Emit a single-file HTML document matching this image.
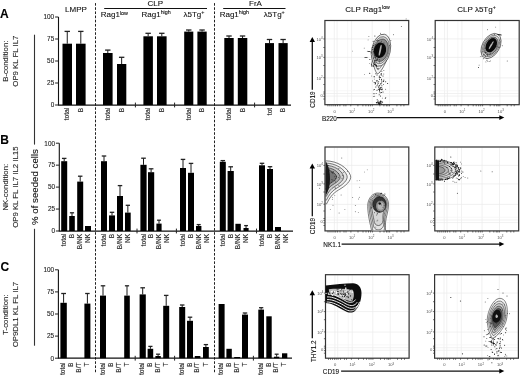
<!DOCTYPE html>
<html><head><meta charset="utf-8"><style>
html,body{margin:0;padding:0;background:#fff;}
svg{display:block;font-family:"Liberation Sans", sans-serif;will-change:transform;}
text{stroke:currentColor;stroke-width:0.1px;paint-order:stroke;}
</style></head><body>
<svg width="520" height="375" viewBox="0 0 520 375">
<rect width="520" height="375" fill="#fff"/>
<text x="0.0" y="17.7" font-size="12.0" text-anchor="start" font-weight="bold" fill="#000">A</text><text x="0.3" y="143.7" font-size="12.0" text-anchor="start" font-weight="bold" fill="#000">B</text><text x="0.6" y="270.5" font-size="12.0" text-anchor="start" font-weight="bold" fill="#000">C</text><text x="8.5" y="61.2" font-size="7.8" text-anchor="middle" font-weight="normal" fill="#222" transform="rotate(-90 8.5 61.2)">B-condition:</text><text x="18.3" y="61.2" font-size="7.8" text-anchor="middle" font-weight="normal" fill="#222" transform="rotate(-90 18.3 61.2)">OP9 KL FL IL7</text><text x="8.5" y="187.2" font-size="7.8" text-anchor="middle" font-weight="normal" fill="#222" transform="rotate(-90 8.5 187.2)">NK-condition:</text><text x="18.3" y="187.2" font-size="7.8" text-anchor="middle" font-weight="normal" fill="#222" transform="rotate(-90 18.3 187.2)">OP9 KL FL IL7 IL2 IL15</text><text x="8.5" y="314.6" font-size="7.8" text-anchor="middle" font-weight="normal" fill="#222" transform="rotate(-90 8.5 314.6)">T-condition:</text><text x="18.3" y="314.6" font-size="7.8" text-anchor="middle" font-weight="normal" fill="#222" transform="rotate(-90 18.3 314.6)">OP9DL1 KL FL IL7</text><text x="38.4" y="187.0" font-size="9.7" text-anchor="middle" font-weight="normal" fill="#111" transform="rotate(-90 38.4 187.0)">% of seeded cells</text><line x1="34.5" y1="34.7" x2="34.5" y2="144.6" stroke="#333" stroke-width="1.1"/><line x1="34.5" y1="228.8" x2="34.5" y2="345.7" stroke="#333" stroke-width="1.1"/><text x="76" y="11.8" font-size="8" text-anchor="middle" font-weight="normal" fill="#111">LMPP</text><text x="155.3" y="5.5" font-size="8" text-anchor="middle" font-weight="normal" fill="#111">CLP</text><text x="255.5" y="6.0" font-size="8" text-anchor="middle" font-weight="normal" fill="#111">FrA</text><line x1="104.2" y1="8.5" x2="207" y2="8.5" stroke="#111" stroke-width="1.0"/><line x1="223.2" y1="8.5" x2="285.5" y2="8.5" stroke="#111" stroke-width="1.0"/><text x="100.8" y="17.2" font-size="8" fill="#111">Rag1<tspan font-size="5.4" dy="-2.6">low</tspan></text><text x="141.5" y="17.0" font-size="8" fill="#111">Rag1<tspan font-size="5.4" dy="-2.6">high</tspan></text><text x="183.5" y="17.0" font-size="8" fill="#111">&#955;5Tg<tspan font-size="5.4" dy="-2.6">+</tspan></text><text x="219.7" y="17.0" font-size="8" fill="#111">Rag1<tspan font-size="5.4" dy="-2.6">high</tspan></text><text x="263.8" y="17.0" font-size="8" fill="#111">&#955;5Tg<tspan font-size="5.4" dy="-2.6">+</tspan></text><line x1="95.5" y1="3.1" x2="95.5" y2="373.0" stroke="#222" stroke-width="1.0" stroke-dasharray="2.6 1.565"/><line x1="214.5" y1="3.1" x2="214.5" y2="373.0" stroke="#222" stroke-width="1.0" stroke-dasharray="2.6 1.565"/><line x1="58.5" y1="17.0" x2="58.5" y2="105.0" stroke="#111" stroke-width="1.1"/><line x1="55.1" y1="17.0" x2="58.5" y2="17.0" stroke="#222" stroke-width="1.0"/><text x="54.2" y="19.3" font-size="6.4" text-anchor="end" font-weight="normal" fill="#222">100</text><line x1="55.1" y1="39.0" x2="58.5" y2="39.0" stroke="#222" stroke-width="1.0"/><text x="54.2" y="41.3" font-size="6.4" text-anchor="end" font-weight="normal" fill="#222">75</text><line x1="55.1" y1="61.0" x2="58.5" y2="61.0" stroke="#222" stroke-width="1.0"/><text x="54.2" y="63.3" font-size="6.4" text-anchor="end" font-weight="normal" fill="#222">50</text><line x1="55.1" y1="83.0" x2="58.5" y2="83.0" stroke="#222" stroke-width="1.0"/><text x="54.2" y="85.3" font-size="6.4" text-anchor="end" font-weight="normal" fill="#222">25</text><line x1="55.1" y1="105.0" x2="58.5" y2="105.0" stroke="#222" stroke-width="1.0"/><text x="54.2" y="107.3" font-size="6.4" text-anchor="end" font-weight="normal" fill="#222">0</text><line x1="58.0" y1="105.0" x2="291.0" y2="105.0" stroke="#111" stroke-width="1.25"/><line x1="135.4" y1="102.6" x2="135.4" y2="107.4" stroke="#222" stroke-width="1.0"/><line x1="174.6" y1="102.6" x2="174.6" y2="107.4" stroke="#222" stroke-width="1.0"/><line x1="254.6" y1="102.6" x2="254.6" y2="107.4" stroke="#222" stroke-width="1.0"/><rect x="62.5" y="43.7" width="9.5" height="61.3" fill="#000"/><line x1="67.25" y1="31.4" x2="67.25" y2="43.7" stroke="#000" stroke-width="0.9"/><line x1="64.55" y1="31.4" x2="69.95" y2="31.4" stroke="#222" stroke-width="1.3"/><text x="69.45" y="107.8" font-size="6.6" text-anchor="end" font-weight="normal" fill="#222" transform="rotate(-90 69.45 107.8)">total</text><rect x="76.0" y="43.7" width="9.599999999999994" height="61.3" fill="#000"/><line x1="80.8" y1="31.4" x2="80.8" y2="43.7" stroke="#000" stroke-width="0.9"/><line x1="78.1" y1="31.4" x2="83.5" y2="31.4" stroke="#222" stroke-width="1.3"/><text x="83.0" y="107.8" font-size="6.6" text-anchor="end" font-weight="normal" fill="#222" transform="rotate(-90 83.0 107.8)">B</text><rect x="103.0" y="53.0" width="9.599999999999994" height="52.0" fill="#000"/><line x1="107.8" y1="50.1" x2="107.8" y2="53.0" stroke="#000" stroke-width="0.9"/><line x1="105.1" y1="50.1" x2="110.5" y2="50.1" stroke="#222" stroke-width="1.3"/><text x="110.0" y="107.8" font-size="6.6" text-anchor="end" font-weight="normal" fill="#222" transform="rotate(-90 110.0 107.8)">total</text><rect x="117.0" y="64.0" width="9.299999999999997" height="41.0" fill="#000"/><line x1="121.65" y1="57.3" x2="121.65" y2="64.0" stroke="#000" stroke-width="0.9"/><line x1="118.95" y1="57.3" x2="124.35000000000001" y2="57.3" stroke="#222" stroke-width="1.3"/><text x="123.85000000000001" y="107.8" font-size="6.6" text-anchor="end" font-weight="normal" fill="#222" transform="rotate(-90 123.85000000000001 107.8)">B</text><rect x="143.4" y="36.3" width="9.5" height="68.7" fill="#000"/><line x1="148.15" y1="33.3" x2="148.15" y2="36.3" stroke="#000" stroke-width="0.9"/><line x1="145.45000000000002" y1="33.3" x2="150.85" y2="33.3" stroke="#222" stroke-width="1.3"/><text x="150.35" y="107.8" font-size="6.6" text-anchor="end" font-weight="normal" fill="#222" transform="rotate(-90 150.35 107.8)">total</text><rect x="157.0" y="36.3" width="9.599999999999994" height="68.7" fill="#000"/><line x1="161.8" y1="33.3" x2="161.8" y2="36.3" stroke="#000" stroke-width="0.9"/><line x1="159.10000000000002" y1="33.3" x2="164.5" y2="33.3" stroke="#222" stroke-width="1.3"/><text x="164.0" y="107.8" font-size="6.6" text-anchor="end" font-weight="normal" fill="#222" transform="rotate(-90 164.0 107.8)">B</text><rect x="184.2" y="31.6" width="9.100000000000023" height="73.4" fill="#000"/><line x1="188.75" y1="30.0" x2="188.75" y2="31.6" stroke="#000" stroke-width="0.9"/><line x1="186.05" y1="30.0" x2="191.45" y2="30.0" stroke="#222" stroke-width="1.3"/><text x="190.95" y="107.8" font-size="6.6" text-anchor="end" font-weight="normal" fill="#222" transform="rotate(-90 190.95 107.8)">total</text><rect x="197.4" y="31.6" width="9.299999999999983" height="73.4" fill="#000"/><line x1="202.05" y1="30.0" x2="202.05" y2="31.6" stroke="#000" stroke-width="0.9"/><line x1="199.35000000000002" y1="30.0" x2="204.75" y2="30.0" stroke="#222" stroke-width="1.3"/><text x="204.25" y="107.8" font-size="6.6" text-anchor="end" font-weight="normal" fill="#222" transform="rotate(-90 204.25 107.8)">B</text><rect x="224.3" y="38.0" width="9.399999999999977" height="67.0" fill="#000"/><line x1="229.0" y1="36.0" x2="229.0" y2="38.0" stroke="#000" stroke-width="0.9"/><line x1="226.3" y1="36.0" x2="231.7" y2="36.0" stroke="#222" stroke-width="1.3"/><text x="231.2" y="107.8" font-size="6.6" text-anchor="end" font-weight="normal" fill="#222" transform="rotate(-90 231.2 107.8)">total</text><rect x="237.8" y="38.0" width="9.5" height="67.0" fill="#000"/><line x1="242.55" y1="36.0" x2="242.55" y2="38.0" stroke="#000" stroke-width="0.9"/><line x1="239.85000000000002" y1="36.0" x2="245.25" y2="36.0" stroke="#222" stroke-width="1.3"/><text x="244.75" y="107.8" font-size="6.6" text-anchor="end" font-weight="normal" fill="#222" transform="rotate(-90 244.75 107.8)">B</text><rect x="265.0" y="43.1" width="9.0" height="61.9" fill="#000"/><line x1="269.5" y1="39.5" x2="269.5" y2="43.1" stroke="#000" stroke-width="0.9"/><line x1="266.8" y1="39.5" x2="272.2" y2="39.5" stroke="#222" stroke-width="1.3"/><text x="271.7" y="107.8" font-size="6.6" text-anchor="end" font-weight="normal" fill="#222" transform="rotate(-90 271.7 107.8)">tot</text><rect x="278.5" y="43.1" width="9.199999999999989" height="61.9" fill="#000"/><line x1="283.1" y1="39.5" x2="283.1" y2="43.1" stroke="#000" stroke-width="0.9"/><line x1="280.40000000000003" y1="39.5" x2="285.8" y2="39.5" stroke="#222" stroke-width="1.3"/><text x="285.3" y="107.8" font-size="6.6" text-anchor="end" font-weight="normal" fill="#222" transform="rotate(-90 285.3 107.8)">B</text><line x1="59.3" y1="143.2" x2="59.3" y2="231.0" stroke="#111" stroke-width="1.1"/><line x1="55.9" y1="143.2" x2="59.3" y2="143.2" stroke="#222" stroke-width="1.0"/><text x="55.0" y="145.5" font-size="6.4" text-anchor="end" font-weight="normal" fill="#222">100</text><line x1="55.9" y1="165.14999999999998" x2="59.3" y2="165.14999999999998" stroke="#222" stroke-width="1.0"/><text x="55.0" y="167.45" font-size="6.4" text-anchor="end" font-weight="normal" fill="#222">75</text><line x1="55.9" y1="187.1" x2="59.3" y2="187.1" stroke="#222" stroke-width="1.0"/><text x="55.0" y="189.4" font-size="6.4" text-anchor="end" font-weight="normal" fill="#222">50</text><line x1="55.9" y1="209.05" x2="59.3" y2="209.05" stroke="#222" stroke-width="1.0"/><text x="55.0" y="211.35000000000002" font-size="6.4" text-anchor="end" font-weight="normal" fill="#222">25</text><line x1="55.9" y1="231.0" x2="59.3" y2="231.0" stroke="#222" stroke-width="1.0"/><text x="55.0" y="233.3" font-size="6.4" text-anchor="end" font-weight="normal" fill="#222">0</text><line x1="58.8" y1="231.0" x2="293.0" y2="231.0" stroke="#111" stroke-width="1.25"/><line x1="137.0" y1="228.6" x2="137.0" y2="233.4" stroke="#222" stroke-width="1.0"/><line x1="176.4" y1="228.6" x2="176.4" y2="233.4" stroke="#222" stroke-width="1.0"/><line x1="256.5" y1="228.6" x2="256.5" y2="233.4" stroke="#222" stroke-width="1.0"/><rect x="61.2" y="161.2" width="6.0" height="69.80000000000001" fill="#000"/><line x1="64.2" y1="158.4" x2="64.2" y2="161.2" stroke="#000" stroke-width="0.9"/><line x1="61.95" y1="158.4" x2="66.45" y2="158.4" stroke="#222" stroke-width="1.3"/><text x="66.4" y="233.8" font-size="6.6" text-anchor="end" font-weight="normal" fill="#222" transform="rotate(-90 66.4 233.8)">total</text><rect x="69.2" y="216.0" width="5.599999999999994" height="15.0" fill="#000"/><line x1="72.0" y1="212.8" x2="72.0" y2="216.0" stroke="#000" stroke-width="0.9"/><line x1="69.9" y1="212.8" x2="74.1" y2="212.8" stroke="#222" stroke-width="1.3"/><text x="74.2" y="233.8" font-size="6.6" text-anchor="end" font-weight="normal" fill="#222" transform="rotate(-90 74.2 233.8)">B</text><rect x="77.2" y="181.6" width="6.0" height="49.400000000000006" fill="#000"/><line x1="80.2" y1="176.2" x2="80.2" y2="181.6" stroke="#000" stroke-width="0.9"/><line x1="77.95" y1="176.2" x2="82.45" y2="176.2" stroke="#222" stroke-width="1.3"/><text x="82.4" y="233.8" font-size="6.6" text-anchor="end" font-weight="normal" fill="#222" transform="rotate(-90 82.4 233.8)">B/NK</text><rect x="85.0" y="226.0" width="6.0" height="5.0" fill="#000"/><text x="90.2" y="233.8" font-size="6.6" text-anchor="end" font-weight="normal" fill="#222" transform="rotate(-90 90.2 233.8)">NK</text><rect x="101" y="161.2" width="6" height="69.80000000000001" fill="#000"/><line x1="104.0" y1="156.0" x2="104.0" y2="161.2" stroke="#000" stroke-width="0.9"/><line x1="101.75" y1="156.0" x2="106.25" y2="156.0" stroke="#222" stroke-width="1.3"/><text x="106.2" y="233.8" font-size="6.6" text-anchor="end" font-weight="normal" fill="#222" transform="rotate(-90 106.2 233.8)">total</text><rect x="109" y="215.4" width="6" height="15.599999999999994" fill="#000"/><line x1="112.0" y1="212.3" x2="112.0" y2="215.4" stroke="#000" stroke-width="0.9"/><line x1="109.75" y1="212.3" x2="114.25" y2="212.3" stroke="#222" stroke-width="1.3"/><text x="114.2" y="233.8" font-size="6.6" text-anchor="end" font-weight="normal" fill="#222" transform="rotate(-90 114.2 233.8)">B</text><rect x="117" y="196.0" width="6" height="35.0" fill="#000"/><line x1="120.0" y1="185.6" x2="120.0" y2="196.0" stroke="#000" stroke-width="0.9"/><line x1="117.75" y1="185.6" x2="122.25" y2="185.6" stroke="#222" stroke-width="1.3"/><text x="122.2" y="233.8" font-size="6.6" text-anchor="end" font-weight="normal" fill="#222" transform="rotate(-90 122.2 233.8)">B/NK</text><rect x="125" y="212.6" width="5.699999999999989" height="18.400000000000006" fill="#000"/><line x1="127.85" y1="205.3" x2="127.85" y2="212.6" stroke="#000" stroke-width="0.9"/><line x1="125.7125" y1="205.3" x2="129.98749999999998" y2="205.3" stroke="#222" stroke-width="1.3"/><text x="130.04999999999998" y="233.8" font-size="6.6" text-anchor="end" font-weight="normal" fill="#222" transform="rotate(-90 130.04999999999998 233.8)">NK</text><rect x="140.4" y="164.8" width="6.199999999999989" height="66.19999999999999" fill="#000"/><line x1="143.5" y1="158.2" x2="143.5" y2="164.8" stroke="#000" stroke-width="0.9"/><line x1="141.175" y1="158.2" x2="145.825" y2="158.2" stroke="#222" stroke-width="1.3"/><text x="145.7" y="233.8" font-size="6.6" text-anchor="end" font-weight="normal" fill="#222" transform="rotate(-90 145.7 233.8)">total</text><rect x="148" y="172.2" width="6.199999999999989" height="58.80000000000001" fill="#000"/><line x1="151.1" y1="168.8" x2="151.1" y2="172.2" stroke="#000" stroke-width="0.9"/><line x1="148.775" y1="168.8" x2="153.42499999999998" y2="168.8" stroke="#222" stroke-width="1.3"/><text x="153.29999999999998" y="233.8" font-size="6.6" text-anchor="end" font-weight="normal" fill="#222" transform="rotate(-90 153.29999999999998 233.8)">B</text><rect x="156.4" y="223.6" width="5.199999999999989" height="7.400000000000006" fill="#000"/><line x1="159.0" y1="220.2" x2="159.0" y2="223.6" stroke="#000" stroke-width="0.9"/><line x1="157.05" y1="220.2" x2="160.95" y2="220.2" stroke="#222" stroke-width="1.3"/><text x="161.2" y="233.8" font-size="6.6" text-anchor="end" font-weight="normal" fill="#222" transform="rotate(-90 161.2 233.8)">B/NK</text><text x="169.39999999999998" y="233.8" font-size="6.6" text-anchor="end" font-weight="normal" fill="#222" transform="rotate(-90 169.39999999999998 233.8)">NK</text><rect x="180" y="168.0" width="6" height="63.0" fill="#000"/><line x1="183.0" y1="159.4" x2="183.0" y2="168.0" stroke="#000" stroke-width="0.9"/><line x1="180.75" y1="159.4" x2="185.25" y2="159.4" stroke="#222" stroke-width="1.3"/><text x="185.2" y="233.8" font-size="6.6" text-anchor="end" font-weight="normal" fill="#222" transform="rotate(-90 185.2 233.8)">total</text><rect x="188" y="172.8" width="6" height="58.19999999999999" fill="#000"/><line x1="191.0" y1="163.4" x2="191.0" y2="172.8" stroke="#000" stroke-width="0.9"/><line x1="188.75" y1="163.4" x2="193.25" y2="163.4" stroke="#222" stroke-width="1.3"/><text x="193.2" y="233.8" font-size="6.6" text-anchor="end" font-weight="normal" fill="#222" transform="rotate(-90 193.2 233.8)">B</text><rect x="196" y="226.0" width="5.400000000000006" height="5.0" fill="#000"/><line x1="198.7" y1="224.6" x2="198.7" y2="226.0" stroke="#000" stroke-width="0.9"/><line x1="196.67499999999998" y1="224.6" x2="200.725" y2="224.6" stroke="#222" stroke-width="1.3"/><text x="200.89999999999998" y="233.8" font-size="6.6" text-anchor="end" font-weight="normal" fill="#222" transform="rotate(-90 200.89999999999998 233.8)">B/NK</text><text x="208.95" y="233.8" font-size="6.6" text-anchor="end" font-weight="normal" fill="#222" transform="rotate(-90 208.95 233.8)">NK</text><rect x="219.8" y="161.8" width="6.0" height="69.19999999999999" fill="#000"/><line x1="222.8" y1="160.6" x2="222.8" y2="161.8" stroke="#000" stroke-width="0.9"/><line x1="220.55" y1="160.6" x2="225.05" y2="160.6" stroke="#222" stroke-width="1.3"/><text x="225.0" y="233.8" font-size="6.6" text-anchor="end" font-weight="normal" fill="#222" transform="rotate(-90 225.0 233.8)">total</text><rect x="227.6" y="171.0" width="6.200000000000017" height="60.0" fill="#000"/><line x1="230.7" y1="166.8" x2="230.7" y2="171.0" stroke="#000" stroke-width="0.9"/><line x1="228.37499999999997" y1="166.8" x2="233.025" y2="166.8" stroke="#222" stroke-width="1.3"/><text x="232.89999999999998" y="233.8" font-size="6.6" text-anchor="end" font-weight="normal" fill="#222" transform="rotate(-90 232.89999999999998 233.8)">B</text><rect x="235.4" y="223.8" width="5.400000000000006" height="7.199999999999989" fill="#000"/><text x="240.3" y="233.8" font-size="6.6" text-anchor="end" font-weight="normal" fill="#222" transform="rotate(-90 240.3 233.8)">B/NK</text><rect x="243.5" y="228.0" width="5.099999999999994" height="3.0" fill="#000"/><line x1="246.05" y1="225.6" x2="246.05" y2="228.0" stroke="#000" stroke-width="0.9"/><line x1="244.13750000000002" y1="225.6" x2="247.9625" y2="225.6" stroke="#222" stroke-width="1.3"/><text x="248.25" y="233.8" font-size="6.6" text-anchor="end" font-weight="normal" fill="#222" transform="rotate(-90 248.25 233.8)">NK</text><rect x="259" y="165.3" width="6" height="65.69999999999999" fill="#000"/><line x1="262.0" y1="163.3" x2="262.0" y2="165.3" stroke="#000" stroke-width="0.9"/><line x1="259.75" y1="163.3" x2="264.25" y2="163.3" stroke="#222" stroke-width="1.3"/><text x="264.2" y="233.8" font-size="6.6" text-anchor="end" font-weight="normal" fill="#222" transform="rotate(-90 264.2 233.8)">total</text><rect x="267" y="169.0" width="6" height="62.0" fill="#000"/><line x1="270.0" y1="166.7" x2="270.0" y2="169.0" stroke="#000" stroke-width="0.9"/><line x1="267.75" y1="166.7" x2="272.25" y2="166.7" stroke="#222" stroke-width="1.3"/><text x="272.2" y="233.8" font-size="6.6" text-anchor="end" font-weight="normal" fill="#222" transform="rotate(-90 272.2 233.8)">B</text><rect x="275" y="227.0" width="6" height="4.0" fill="#000"/><text x="280.2" y="233.8" font-size="6.6" text-anchor="end" font-weight="normal" fill="#222" transform="rotate(-90 280.2 233.8)">B/NK</text><text x="287.95" y="233.8" font-size="6.6" text-anchor="end" font-weight="normal" fill="#222" transform="rotate(-90 287.95 233.8)">NK</text><line x1="58.4" y1="269.8" x2="58.4" y2="358.2" stroke="#111" stroke-width="1.1"/><line x1="55.0" y1="269.8" x2="58.4" y2="269.8" stroke="#222" stroke-width="1.0"/><text x="54.1" y="272.1" font-size="6.4" text-anchor="end" font-weight="normal" fill="#222">100</text><line x1="55.0" y1="291.9" x2="58.4" y2="291.9" stroke="#222" stroke-width="1.0"/><text x="54.1" y="294.2" font-size="6.4" text-anchor="end" font-weight="normal" fill="#222">75</text><line x1="55.0" y1="314.0" x2="58.4" y2="314.0" stroke="#222" stroke-width="1.0"/><text x="54.1" y="316.3" font-size="6.4" text-anchor="end" font-weight="normal" fill="#222">50</text><line x1="55.0" y1="336.1" x2="58.4" y2="336.1" stroke="#222" stroke-width="1.0"/><text x="54.1" y="338.40000000000003" font-size="6.4" text-anchor="end" font-weight="normal" fill="#222">25</text><line x1="55.0" y1="358.2" x2="58.4" y2="358.2" stroke="#222" stroke-width="1.0"/><text x="54.1" y="360.5" font-size="6.4" text-anchor="end" font-weight="normal" fill="#222">0</text><line x1="57.9" y1="358.2" x2="292.0" y2="358.2" stroke="#111" stroke-width="1.25"/><line x1="135.2" y1="355.8" x2="135.2" y2="360.59999999999997" stroke="#222" stroke-width="1.0"/><line x1="174.6" y1="355.8" x2="174.6" y2="360.59999999999997" stroke="#222" stroke-width="1.0"/><line x1="253.4" y1="355.8" x2="253.4" y2="360.59999999999997" stroke="#222" stroke-width="1.0"/><rect x="60.4" y="302.8" width="6.399999999999999" height="55.39999999999998" fill="#000"/><line x1="63.599999999999994" y1="293.5" x2="63.599999999999994" y2="302.8" stroke="#000" stroke-width="0.9"/><line x1="61.199999999999996" y1="293.5" x2="66.0" y2="293.5" stroke="#222" stroke-width="1.3"/><text x="65.3" y="362.5" font-size="6.6" text-anchor="end" font-weight="normal" fill="#222" transform="rotate(-90 65.3 362.5)">total</text><text x="73.00000000000001" y="362.5" font-size="6.6" text-anchor="end" font-weight="normal" fill="#222" transform="rotate(-90 73.00000000000001 362.5)">B</text><text x="81.00000000000001" y="362.5" font-size="6.6" text-anchor="end" font-weight="normal" fill="#222" transform="rotate(-90 81.00000000000001 362.5)">B/T</text><rect x="84.4" y="303.6" width="6.0" height="54.599999999999966" fill="#000"/><line x1="87.4" y1="293.5" x2="87.4" y2="303.6" stroke="#000" stroke-width="0.9"/><line x1="85.15" y1="293.5" x2="89.65" y2="293.5" stroke="#222" stroke-width="1.3"/><text x="89.10000000000001" y="362.5" font-size="6.6" text-anchor="end" font-weight="normal" fill="#222" transform="rotate(-90 89.10000000000001 362.5)">T</text><rect x="100" y="295.6" width="6" height="62.599999999999966" fill="#000"/><line x1="103.0" y1="285.8" x2="103.0" y2="295.6" stroke="#000" stroke-width="0.9"/><line x1="100.75" y1="285.8" x2="105.25" y2="285.8" stroke="#222" stroke-width="1.3"/><text x="104.7" y="362.5" font-size="6.6" text-anchor="end" font-weight="normal" fill="#222" transform="rotate(-90 104.7 362.5)">total</text><text x="112.7" y="362.5" font-size="6.6" text-anchor="end" font-weight="normal" fill="#222" transform="rotate(-90 112.7 362.5)">B</text><text x="120.7" y="362.5" font-size="6.6" text-anchor="end" font-weight="normal" fill="#222" transform="rotate(-90 120.7 362.5)">B/T</text><rect x="124.2" y="295.6" width="5.6000000000000085" height="62.599999999999966" fill="#000"/><line x1="127.0" y1="285.8" x2="127.0" y2="295.6" stroke="#000" stroke-width="0.9"/><line x1="124.89999999999999" y1="285.8" x2="129.1" y2="285.8" stroke="#222" stroke-width="1.3"/><text x="128.7" y="362.5" font-size="6.6" text-anchor="end" font-weight="normal" fill="#222" transform="rotate(-90 128.7 362.5)">T</text><rect x="139.6" y="294.4" width="6.200000000000017" height="63.80000000000001" fill="#000"/><line x1="142.7" y1="287.8" x2="142.7" y2="294.4" stroke="#000" stroke-width="0.9"/><line x1="140.37499999999997" y1="287.8" x2="145.025" y2="287.8" stroke="#222" stroke-width="1.3"/><text x="144.39999999999998" y="362.5" font-size="6.6" text-anchor="end" font-weight="normal" fill="#222" transform="rotate(-90 144.39999999999998 362.5)">total</text><rect x="147.6" y="348.8" width="5.599999999999994" height="9.399999999999977" fill="#000"/><line x1="150.39999999999998" y1="346.4" x2="150.39999999999998" y2="348.8" stroke="#000" stroke-width="0.9"/><line x1="148.29999999999998" y1="346.4" x2="152.49999999999997" y2="346.4" stroke="#222" stroke-width="1.3"/><text x="152.09999999999997" y="362.5" font-size="6.6" text-anchor="end" font-weight="normal" fill="#222" transform="rotate(-90 152.09999999999997 362.5)">B</text><rect x="155.4" y="356.0" width="5.400000000000006" height="2.1999999999999886" fill="#000"/><line x1="158.10000000000002" y1="354.2" x2="158.10000000000002" y2="356.0" stroke="#000" stroke-width="0.9"/><line x1="156.07500000000002" y1="354.2" x2="160.12500000000003" y2="354.2" stroke="#222" stroke-width="1.3"/><text x="159.8" y="362.5" font-size="6.6" text-anchor="end" font-weight="normal" fill="#222" transform="rotate(-90 159.8 362.5)">B/T</text><rect x="163.2" y="305.8" width="6.0" height="52.39999999999998" fill="#000"/><line x1="166.2" y1="295.4" x2="166.2" y2="305.8" stroke="#000" stroke-width="0.9"/><line x1="163.95" y1="295.4" x2="168.45" y2="295.4" stroke="#222" stroke-width="1.3"/><text x="167.89999999999998" y="362.5" font-size="6.6" text-anchor="end" font-weight="normal" fill="#222" transform="rotate(-90 167.89999999999998 362.5)">T</text><rect x="179.2" y="307.0" width="6.0" height="51.19999999999999" fill="#000"/><line x1="182.2" y1="305.0" x2="182.2" y2="307.0" stroke="#000" stroke-width="0.9"/><line x1="179.95" y1="305.0" x2="184.45" y2="305.0" stroke="#222" stroke-width="1.3"/><text x="183.89999999999998" y="362.5" font-size="6.6" text-anchor="end" font-weight="normal" fill="#222" transform="rotate(-90 183.89999999999998 362.5)">total</text><rect x="187" y="320.8" width="6" height="37.39999999999998" fill="#000"/><line x1="190.0" y1="317.2" x2="190.0" y2="320.8" stroke="#000" stroke-width="0.9"/><line x1="187.75" y1="317.2" x2="192.25" y2="317.2" stroke="#222" stroke-width="1.3"/><text x="191.7" y="362.5" font-size="6.6" text-anchor="end" font-weight="normal" fill="#222" transform="rotate(-90 191.7 362.5)">B</text><rect x="194.8" y="356.0" width="5.599999999999994" height="2.1999999999999886" fill="#000"/><text x="199.3" y="362.5" font-size="6.6" text-anchor="end" font-weight="normal" fill="#222" transform="rotate(-90 199.3 362.5)">B/T</text><rect x="203" y="347.0" width="5.800000000000011" height="11.199999999999989" fill="#000"/><line x1="205.9" y1="344.6" x2="205.9" y2="347.0" stroke="#000" stroke-width="0.9"/><line x1="203.725" y1="344.6" x2="208.07500000000002" y2="344.6" stroke="#222" stroke-width="1.3"/><text x="207.6" y="362.5" font-size="6.6" text-anchor="end" font-weight="normal" fill="#222" transform="rotate(-90 207.6 362.5)">T</text><rect x="218.6" y="304.0" width="6.0" height="54.19999999999999" fill="#000"/><text x="223.29999999999998" y="362.5" font-size="6.6" text-anchor="end" font-weight="normal" fill="#222" transform="rotate(-90 223.29999999999998 362.5)">total</text><rect x="226.4" y="348.8" width="5.400000000000006" height="9.399999999999977" fill="#000"/><text x="230.8" y="362.5" font-size="6.6" text-anchor="end" font-weight="normal" fill="#222" transform="rotate(-90 230.8 362.5)">B</text><rect x="234.2" y="357.0" width="6.0" height="1.1999999999999886" fill="#000"/><text x="238.89999999999998" y="362.5" font-size="6.6" text-anchor="end" font-weight="normal" fill="#222" transform="rotate(-90 238.89999999999998 362.5)">B/T</text><rect x="242" y="314.6" width="6" height="43.599999999999966" fill="#000"/><line x1="245.0" y1="313.0" x2="245.0" y2="314.6" stroke="#000" stroke-width="0.9"/><line x1="242.75" y1="313.0" x2="247.25" y2="313.0" stroke="#222" stroke-width="1.3"/><text x="246.7" y="362.5" font-size="6.6" text-anchor="end" font-weight="normal" fill="#222" transform="rotate(-90 246.7 362.5)">T</text><rect x="258.3" y="309.6" width="5.699999999999989" height="48.599999999999966" fill="#000"/><line x1="261.15" y1="307.7" x2="261.15" y2="309.6" stroke="#000" stroke-width="0.9"/><line x1="259.0125" y1="307.7" x2="263.28749999999997" y2="307.7" stroke="#222" stroke-width="1.3"/><text x="262.84999999999997" y="362.5" font-size="6.6" text-anchor="end" font-weight="normal" fill="#222" transform="rotate(-90 262.84999999999997 362.5)">total</text><rect x="266.3" y="316.3" width="5.399999999999977" height="41.89999999999998" fill="#000"/><text x="270.7" y="362.5" font-size="6.6" text-anchor="end" font-weight="normal" fill="#222" transform="rotate(-90 270.7 362.5)">B</text><rect x="274" y="356.7" width="5.300000000000011" height="1.5" fill="#000"/><line x1="276.65" y1="354.2" x2="276.65" y2="356.7" stroke="#000" stroke-width="0.9"/><line x1="274.66249999999997" y1="354.2" x2="278.6375" y2="354.2" stroke="#222" stroke-width="1.3"/><text x="278.34999999999997" y="362.5" font-size="6.6" text-anchor="end" font-weight="normal" fill="#222" transform="rotate(-90 278.34999999999997 362.5)">B/T</text><rect x="282" y="353.3" width="5.300000000000011" height="4.899999999999977" fill="#000"/><text x="286.34999999999997" y="362.5" font-size="6.6" text-anchor="end" font-weight="normal" fill="#222" transform="rotate(-90 286.34999999999997 362.5)">T</text><line x1="334.29999999999995" y1="21.1" x2="334.29999999999995" y2="104.10000000000001" stroke="#ebebeb" stroke-width="0.7"/><line x1="337.09999999999997" y1="21.1" x2="337.09999999999997" y2="104.10000000000001" stroke="#ebebeb" stroke-width="0.7"/><line x1="347.59999999999997" y1="21.1" x2="347.59999999999997" y2="104.10000000000001" stroke="#f3f3f3" stroke-width="0.7"/><line x1="351.59999999999997" y1="21.1" x2="351.59999999999997" y2="104.10000000000001" stroke="#ebebeb" stroke-width="0.7"/><line x1="372.2" y1="21.1" x2="372.2" y2="104.10000000000001" stroke="#ebebeb" stroke-width="0.7"/><line x1="389.59999999999997" y1="21.1" x2="389.59999999999997" y2="104.10000000000001" stroke="#ebebeb" stroke-width="0.7"/><line x1="325.5" y1="38.9" x2="408.09999999999997" y2="38.9" stroke="#ebebeb" stroke-width="0.7"/><line x1="325.5" y1="57.4" x2="408.09999999999997" y2="57.4" stroke="#ebebeb" stroke-width="0.7"/><line x1="325.5" y1="77.9" x2="408.09999999999997" y2="77.9" stroke="#ebebeb" stroke-width="0.7"/><line x1="325.5" y1="90.7" x2="408.09999999999997" y2="90.7" stroke="#f3f3f3" stroke-width="0.7"/><line x1="325.5" y1="93.5" x2="408.09999999999997" y2="93.5" stroke="#ebebeb" stroke-width="0.7"/><line x1="325.5" y1="96.1" x2="408.09999999999997" y2="96.1" stroke="#ebebeb" stroke-width="0.7"/><rect x="324.9" y="20.5" width="83.8" height="84.2" fill="none" stroke="#333" stroke-width="1.2"/><line x1="323.29999999999995" y1="38.9" x2="324.9" y2="38.9" stroke="#333" stroke-width="0.7"/><line x1="323.29999999999995" y1="57.4" x2="324.9" y2="57.4" stroke="#333" stroke-width="0.7"/><line x1="323.29999999999995" y1="77.7" x2="324.9" y2="77.7" stroke="#333" stroke-width="0.7"/><line x1="323.29999999999995" y1="93.9" x2="324.9" y2="93.9" stroke="#333" stroke-width="0.7"/><line x1="323.29999999999995" y1="96.4" x2="324.9" y2="96.4" stroke="#333" stroke-width="0.7"/><line x1="323.29999999999995" y1="92.0" x2="324.9" y2="92.0" stroke="#333" stroke-width="0.7"/><line x1="323.29999999999995" y1="99.0" x2="324.9" y2="99.0" stroke="#333" stroke-width="0.7"/><line x1="323.29999999999995" y1="65.5" x2="324.9" y2="65.5" stroke="#333" stroke-width="0.7"/><line x1="323.29999999999995" y1="47.5" x2="324.9" y2="47.5" stroke="#333" stroke-width="0.7"/><line x1="323.29999999999995" y1="84.5" x2="324.9" y2="84.5" stroke="#333" stroke-width="0.7"/><line x1="327.9" y1="104.7" x2="327.9" y2="106.3" stroke="#333" stroke-width="0.7"/><line x1="329.9" y1="104.7" x2="329.9" y2="106.3" stroke="#333" stroke-width="0.7"/><line x1="331.9" y1="104.7" x2="331.9" y2="106.3" stroke="#333" stroke-width="0.7"/><line x1="333.9" y1="104.7" x2="333.9" y2="106.3" stroke="#333" stroke-width="0.7"/><line x1="335.59999999999997" y1="104.7" x2="335.59999999999997" y2="106.3" stroke="#333" stroke-width="0.7"/><line x1="337.5" y1="104.7" x2="337.5" y2="106.3" stroke="#333" stroke-width="0.7"/><line x1="339.9" y1="104.7" x2="339.9" y2="106.3" stroke="#333" stroke-width="0.7"/><line x1="343.9" y1="104.7" x2="343.9" y2="106.3" stroke="#333" stroke-width="0.7"/><line x1="345.9" y1="104.7" x2="345.9" y2="106.3" stroke="#333" stroke-width="0.7"/><line x1="350.79999999999995" y1="104.7" x2="350.79999999999995" y2="106.3" stroke="#333" stroke-width="0.7"/><line x1="357.9" y1="104.7" x2="357.9" y2="106.3" stroke="#333" stroke-width="0.7"/><line x1="362.9" y1="104.7" x2="362.9" y2="106.3" stroke="#333" stroke-width="0.7"/><line x1="365.9" y1="104.7" x2="365.9" y2="106.3" stroke="#333" stroke-width="0.7"/><line x1="368.4" y1="104.7" x2="368.4" y2="106.3" stroke="#333" stroke-width="0.7"/><line x1="370.4" y1="104.7" x2="370.4" y2="106.3" stroke="#333" stroke-width="0.7"/><line x1="372.29999999999995" y1="104.7" x2="372.29999999999995" y2="106.3" stroke="#333" stroke-width="0.7"/><line x1="379.9" y1="104.7" x2="379.9" y2="106.3" stroke="#333" stroke-width="0.7"/><line x1="383.9" y1="104.7" x2="383.9" y2="106.3" stroke="#333" stroke-width="0.7"/><line x1="386.4" y1="104.7" x2="386.4" y2="106.3" stroke="#333" stroke-width="0.7"/><line x1="387.9" y1="104.7" x2="387.9" y2="106.3" stroke="#333" stroke-width="0.7"/><line x1="389.5" y1="104.7" x2="389.5" y2="106.3" stroke="#333" stroke-width="0.7"/><line x1="396.9" y1="104.7" x2="396.9" y2="106.3" stroke="#333" stroke-width="0.7"/><line x1="400.9" y1="104.7" x2="400.9" y2="106.3" stroke="#333" stroke-width="0.7"/><line x1="403.9" y1="104.7" x2="403.9" y2="106.3" stroke="#333" stroke-width="0.7"/><text x="322.7" y="40.5" font-size="4.1" text-anchor="end" fill="#555" style="stroke:none">10<tspan font-size="2.9" dy="-1.7">4</tspan></text><text x="322.7" y="59.0" font-size="4.1" text-anchor="end" fill="#555" style="stroke:none">10<tspan font-size="2.9" dy="-1.7">3</tspan></text><text x="322.7" y="79.5" font-size="4.1" text-anchor="end" fill="#555" style="stroke:none">10<tspan font-size="2.9" dy="-1.7">2</tspan></text><text x="322.7" y="96.69999999999999" font-size="4.1" text-anchor="end" fill="#555" style="stroke:none">0</text><text x="334.59999999999997" y="112.9" font-size="4.1" text-anchor="middle" fill="#555" style="stroke:none">0</text><text x="352.0" y="112.9" font-size="4.1" text-anchor="middle" fill="#555" style="stroke:none">10<tspan font-size="2.9" dy="-1.7">1</tspan></text><text x="371.2" y="112.9" font-size="4.1" text-anchor="middle" fill="#555" style="stroke:none">10<tspan font-size="2.9" dy="-1.7">2</tspan></text><text x="390.4" y="112.9" font-size="4.1" text-anchor="middle" fill="#555" style="stroke:none">10<tspan font-size="2.9" dy="-1.7">3</tspan></text><line x1="444.59999999999997" y1="21.1" x2="444.59999999999997" y2="104.10000000000001" stroke="#ebebeb" stroke-width="0.7"/><line x1="447.4" y1="21.1" x2="447.4" y2="104.10000000000001" stroke="#ebebeb" stroke-width="0.7"/><line x1="457.9" y1="21.1" x2="457.9" y2="104.10000000000001" stroke="#f3f3f3" stroke-width="0.7"/><line x1="461.9" y1="21.1" x2="461.9" y2="104.10000000000001" stroke="#ebebeb" stroke-width="0.7"/><line x1="482.5" y1="21.1" x2="482.5" y2="104.10000000000001" stroke="#ebebeb" stroke-width="0.7"/><line x1="499.9" y1="21.1" x2="499.9" y2="104.10000000000001" stroke="#ebebeb" stroke-width="0.7"/><line x1="435.8" y1="38.9" x2="518.6" y2="38.9" stroke="#ebebeb" stroke-width="0.7"/><line x1="435.8" y1="57.4" x2="518.6" y2="57.4" stroke="#ebebeb" stroke-width="0.7"/><line x1="435.8" y1="77.9" x2="518.6" y2="77.9" stroke="#ebebeb" stroke-width="0.7"/><line x1="435.8" y1="90.7" x2="518.6" y2="90.7" stroke="#f3f3f3" stroke-width="0.7"/><line x1="435.8" y1="93.5" x2="518.6" y2="93.5" stroke="#ebebeb" stroke-width="0.7"/><line x1="435.8" y1="96.1" x2="518.6" y2="96.1" stroke="#ebebeb" stroke-width="0.7"/><rect x="435.2" y="20.5" width="84.0" height="84.2" fill="none" stroke="#333" stroke-width="1.2"/><line x1="433.59999999999997" y1="38.9" x2="435.2" y2="38.9" stroke="#333" stroke-width="0.7"/><line x1="433.59999999999997" y1="57.4" x2="435.2" y2="57.4" stroke="#333" stroke-width="0.7"/><line x1="433.59999999999997" y1="77.7" x2="435.2" y2="77.7" stroke="#333" stroke-width="0.7"/><line x1="433.59999999999997" y1="93.9" x2="435.2" y2="93.9" stroke="#333" stroke-width="0.7"/><line x1="433.59999999999997" y1="96.4" x2="435.2" y2="96.4" stroke="#333" stroke-width="0.7"/><line x1="433.59999999999997" y1="92.0" x2="435.2" y2="92.0" stroke="#333" stroke-width="0.7"/><line x1="433.59999999999997" y1="99.0" x2="435.2" y2="99.0" stroke="#333" stroke-width="0.7"/><line x1="433.59999999999997" y1="65.5" x2="435.2" y2="65.5" stroke="#333" stroke-width="0.7"/><line x1="433.59999999999997" y1="47.5" x2="435.2" y2="47.5" stroke="#333" stroke-width="0.7"/><line x1="433.59999999999997" y1="84.5" x2="435.2" y2="84.5" stroke="#333" stroke-width="0.7"/><line x1="438.2" y1="104.7" x2="438.2" y2="106.3" stroke="#333" stroke-width="0.7"/><line x1="440.2" y1="104.7" x2="440.2" y2="106.3" stroke="#333" stroke-width="0.7"/><line x1="442.2" y1="104.7" x2="442.2" y2="106.3" stroke="#333" stroke-width="0.7"/><line x1="444.2" y1="104.7" x2="444.2" y2="106.3" stroke="#333" stroke-width="0.7"/><line x1="445.9" y1="104.7" x2="445.9" y2="106.3" stroke="#333" stroke-width="0.7"/><line x1="447.8" y1="104.7" x2="447.8" y2="106.3" stroke="#333" stroke-width="0.7"/><line x1="450.2" y1="104.7" x2="450.2" y2="106.3" stroke="#333" stroke-width="0.7"/><line x1="454.2" y1="104.7" x2="454.2" y2="106.3" stroke="#333" stroke-width="0.7"/><line x1="456.2" y1="104.7" x2="456.2" y2="106.3" stroke="#333" stroke-width="0.7"/><line x1="461.09999999999997" y1="104.7" x2="461.09999999999997" y2="106.3" stroke="#333" stroke-width="0.7"/><line x1="468.2" y1="104.7" x2="468.2" y2="106.3" stroke="#333" stroke-width="0.7"/><line x1="473.2" y1="104.7" x2="473.2" y2="106.3" stroke="#333" stroke-width="0.7"/><line x1="476.2" y1="104.7" x2="476.2" y2="106.3" stroke="#333" stroke-width="0.7"/><line x1="478.7" y1="104.7" x2="478.7" y2="106.3" stroke="#333" stroke-width="0.7"/><line x1="480.7" y1="104.7" x2="480.7" y2="106.3" stroke="#333" stroke-width="0.7"/><line x1="482.59999999999997" y1="104.7" x2="482.59999999999997" y2="106.3" stroke="#333" stroke-width="0.7"/><line x1="490.2" y1="104.7" x2="490.2" y2="106.3" stroke="#333" stroke-width="0.7"/><line x1="494.2" y1="104.7" x2="494.2" y2="106.3" stroke="#333" stroke-width="0.7"/><line x1="496.7" y1="104.7" x2="496.7" y2="106.3" stroke="#333" stroke-width="0.7"/><line x1="498.2" y1="104.7" x2="498.2" y2="106.3" stroke="#333" stroke-width="0.7"/><line x1="499.79999999999995" y1="104.7" x2="499.79999999999995" y2="106.3" stroke="#333" stroke-width="0.7"/><line x1="507.2" y1="104.7" x2="507.2" y2="106.3" stroke="#333" stroke-width="0.7"/><line x1="511.2" y1="104.7" x2="511.2" y2="106.3" stroke="#333" stroke-width="0.7"/><line x1="514.2" y1="104.7" x2="514.2" y2="106.3" stroke="#333" stroke-width="0.7"/><text x="433.0" y="40.5" font-size="4.1" text-anchor="end" fill="#555" style="stroke:none">10<tspan font-size="2.9" dy="-1.7">4</tspan></text><text x="433.0" y="59.0" font-size="4.1" text-anchor="end" fill="#555" style="stroke:none">10<tspan font-size="2.9" dy="-1.7">3</tspan></text><text x="433.0" y="79.5" font-size="4.1" text-anchor="end" fill="#555" style="stroke:none">10<tspan font-size="2.9" dy="-1.7">2</tspan></text><text x="433.0" y="96.69999999999999" font-size="4.1" text-anchor="end" fill="#555" style="stroke:none">0</text><text x="444.9" y="112.9" font-size="4.1" text-anchor="middle" fill="#555" style="stroke:none">0</text><text x="462.3" y="112.9" font-size="4.1" text-anchor="middle" fill="#555" style="stroke:none">10<tspan font-size="2.9" dy="-1.7">1</tspan></text><text x="481.5" y="112.9" font-size="4.1" text-anchor="middle" fill="#555" style="stroke:none">10<tspan font-size="2.9" dy="-1.7">2</tspan></text><text x="500.7" y="112.9" font-size="4.1" text-anchor="middle" fill="#555" style="stroke:none">10<tspan font-size="2.9" dy="-1.7">3</tspan></text><line x1="312.3" y1="40.9" x2="312.3" y2="89.7" stroke="#111" stroke-width="1.3"/><polygon points="312.3,36.9 309.6,41.9 315.0,41.9" fill="#000"/><text x="315.4" y="99.5" font-size="6.4" text-anchor="middle" font-weight="normal" fill="#111" transform="rotate(-90 315.4 99.5)">CD19</text><text x="322.0" y="120.6" font-size="6.4" text-anchor="start" font-weight="normal" fill="#111">B220</text><line x1="337.0" y1="117.6" x2="500.3" y2="117.6" stroke="#111" stroke-width="1.3"/><polygon points="504.3,117.6 499.3,115.3 499.3,119.89999999999999" fill="#000"/><line x1="334.4" y1="147.6" x2="334.4" y2="230.3" stroke="#ebebeb" stroke-width="0.7"/><line x1="337.2" y1="147.6" x2="337.2" y2="230.3" stroke="#ebebeb" stroke-width="0.7"/><line x1="347.7" y1="147.6" x2="347.7" y2="230.3" stroke="#f3f3f3" stroke-width="0.7"/><line x1="351.7" y1="147.6" x2="351.7" y2="230.3" stroke="#ebebeb" stroke-width="0.7"/><line x1="372.3" y1="147.6" x2="372.3" y2="230.3" stroke="#ebebeb" stroke-width="0.7"/><line x1="389.7" y1="147.6" x2="389.7" y2="230.3" stroke="#ebebeb" stroke-width="0.7"/><line x1="325.6" y1="165.4" x2="408.2" y2="165.4" stroke="#ebebeb" stroke-width="0.7"/><line x1="325.6" y1="183.9" x2="408.2" y2="183.9" stroke="#ebebeb" stroke-width="0.7"/><line x1="325.6" y1="204.4" x2="408.2" y2="204.4" stroke="#ebebeb" stroke-width="0.7"/><line x1="325.6" y1="217.2" x2="408.2" y2="217.2" stroke="#f3f3f3" stroke-width="0.7"/><line x1="325.6" y1="220.0" x2="408.2" y2="220.0" stroke="#ebebeb" stroke-width="0.7"/><line x1="325.6" y1="222.6" x2="408.2" y2="222.6" stroke="#ebebeb" stroke-width="0.7"/><rect x="325.0" y="147.0" width="83.8" height="83.9" fill="none" stroke="#333" stroke-width="1.2"/><line x1="323.4" y1="165.4" x2="325.0" y2="165.4" stroke="#333" stroke-width="0.7"/><line x1="323.4" y1="183.9" x2="325.0" y2="183.9" stroke="#333" stroke-width="0.7"/><line x1="323.4" y1="204.2" x2="325.0" y2="204.2" stroke="#333" stroke-width="0.7"/><line x1="323.4" y1="220.4" x2="325.0" y2="220.4" stroke="#333" stroke-width="0.7"/><line x1="323.4" y1="222.9" x2="325.0" y2="222.9" stroke="#333" stroke-width="0.7"/><line x1="323.4" y1="218.5" x2="325.0" y2="218.5" stroke="#333" stroke-width="0.7"/><line x1="323.4" y1="225.5" x2="325.0" y2="225.5" stroke="#333" stroke-width="0.7"/><line x1="323.4" y1="192.0" x2="325.0" y2="192.0" stroke="#333" stroke-width="0.7"/><line x1="323.4" y1="174.0" x2="325.0" y2="174.0" stroke="#333" stroke-width="0.7"/><line x1="323.4" y1="211.0" x2="325.0" y2="211.0" stroke="#333" stroke-width="0.7"/><line x1="328.0" y1="230.9" x2="328.0" y2="232.5" stroke="#333" stroke-width="0.7"/><line x1="330.0" y1="230.9" x2="330.0" y2="232.5" stroke="#333" stroke-width="0.7"/><line x1="332.0" y1="230.9" x2="332.0" y2="232.5" stroke="#333" stroke-width="0.7"/><line x1="334.0" y1="230.9" x2="334.0" y2="232.5" stroke="#333" stroke-width="0.7"/><line x1="335.7" y1="230.9" x2="335.7" y2="232.5" stroke="#333" stroke-width="0.7"/><line x1="337.6" y1="230.9" x2="337.6" y2="232.5" stroke="#333" stroke-width="0.7"/><line x1="340.0" y1="230.9" x2="340.0" y2="232.5" stroke="#333" stroke-width="0.7"/><line x1="344.0" y1="230.9" x2="344.0" y2="232.5" stroke="#333" stroke-width="0.7"/><line x1="346.0" y1="230.9" x2="346.0" y2="232.5" stroke="#333" stroke-width="0.7"/><line x1="350.9" y1="230.9" x2="350.9" y2="232.5" stroke="#333" stroke-width="0.7"/><line x1="358.0" y1="230.9" x2="358.0" y2="232.5" stroke="#333" stroke-width="0.7"/><line x1="363.0" y1="230.9" x2="363.0" y2="232.5" stroke="#333" stroke-width="0.7"/><line x1="366.0" y1="230.9" x2="366.0" y2="232.5" stroke="#333" stroke-width="0.7"/><line x1="368.5" y1="230.9" x2="368.5" y2="232.5" stroke="#333" stroke-width="0.7"/><line x1="370.5" y1="230.9" x2="370.5" y2="232.5" stroke="#333" stroke-width="0.7"/><line x1="372.4" y1="230.9" x2="372.4" y2="232.5" stroke="#333" stroke-width="0.7"/><line x1="380.0" y1="230.9" x2="380.0" y2="232.5" stroke="#333" stroke-width="0.7"/><line x1="384.0" y1="230.9" x2="384.0" y2="232.5" stroke="#333" stroke-width="0.7"/><line x1="386.5" y1="230.9" x2="386.5" y2="232.5" stroke="#333" stroke-width="0.7"/><line x1="388.0" y1="230.9" x2="388.0" y2="232.5" stroke="#333" stroke-width="0.7"/><line x1="389.6" y1="230.9" x2="389.6" y2="232.5" stroke="#333" stroke-width="0.7"/><line x1="397.0" y1="230.9" x2="397.0" y2="232.5" stroke="#333" stroke-width="0.7"/><line x1="401.0" y1="230.9" x2="401.0" y2="232.5" stroke="#333" stroke-width="0.7"/><line x1="404.0" y1="230.9" x2="404.0" y2="232.5" stroke="#333" stroke-width="0.7"/><text x="322.8" y="167.0" font-size="4.1" text-anchor="end" fill="#555" style="stroke:none">10<tspan font-size="2.9" dy="-1.7">4</tspan></text><text x="322.8" y="185.5" font-size="4.1" text-anchor="end" fill="#555" style="stroke:none">10<tspan font-size="2.9" dy="-1.7">3</tspan></text><text x="322.8" y="206.0" font-size="4.1" text-anchor="end" fill="#555" style="stroke:none">10<tspan font-size="2.9" dy="-1.7">2</tspan></text><text x="322.8" y="223.2" font-size="4.1" text-anchor="end" fill="#555" style="stroke:none">0</text><text x="334.7" y="239.1" font-size="4.1" text-anchor="middle" fill="#555" style="stroke:none">0</text><text x="352.1" y="239.1" font-size="4.1" text-anchor="middle" fill="#555" style="stroke:none">10<tspan font-size="2.9" dy="-1.7">1</tspan></text><text x="371.3" y="239.1" font-size="4.1" text-anchor="middle" fill="#555" style="stroke:none">10<tspan font-size="2.9" dy="-1.7">2</tspan></text><text x="390.5" y="239.1" font-size="4.1" text-anchor="middle" fill="#555" style="stroke:none">10<tspan font-size="2.9" dy="-1.7">3</tspan></text><line x1="444.2" y1="147.6" x2="444.2" y2="230.3" stroke="#ebebeb" stroke-width="0.7"/><line x1="447.0" y1="147.6" x2="447.0" y2="230.3" stroke="#ebebeb" stroke-width="0.7"/><line x1="457.5" y1="147.6" x2="457.5" y2="230.3" stroke="#f3f3f3" stroke-width="0.7"/><line x1="461.5" y1="147.6" x2="461.5" y2="230.3" stroke="#ebebeb" stroke-width="0.7"/><line x1="482.1" y1="147.6" x2="482.1" y2="230.3" stroke="#ebebeb" stroke-width="0.7"/><line x1="499.5" y1="147.6" x2="499.5" y2="230.3" stroke="#ebebeb" stroke-width="0.7"/><line x1="435.40000000000003" y1="165.4" x2="518.1" y2="165.4" stroke="#ebebeb" stroke-width="0.7"/><line x1="435.40000000000003" y1="183.9" x2="518.1" y2="183.9" stroke="#ebebeb" stroke-width="0.7"/><line x1="435.40000000000003" y1="204.4" x2="518.1" y2="204.4" stroke="#ebebeb" stroke-width="0.7"/><line x1="435.40000000000003" y1="217.2" x2="518.1" y2="217.2" stroke="#f3f3f3" stroke-width="0.7"/><line x1="435.40000000000003" y1="220.0" x2="518.1" y2="220.0" stroke="#ebebeb" stroke-width="0.7"/><line x1="435.40000000000003" y1="222.6" x2="518.1" y2="222.6" stroke="#ebebeb" stroke-width="0.7"/><rect x="434.8" y="147.0" width="83.9" height="83.9" fill="none" stroke="#333" stroke-width="1.2"/><line x1="433.2" y1="165.4" x2="434.8" y2="165.4" stroke="#333" stroke-width="0.7"/><line x1="433.2" y1="183.9" x2="434.8" y2="183.9" stroke="#333" stroke-width="0.7"/><line x1="433.2" y1="204.2" x2="434.8" y2="204.2" stroke="#333" stroke-width="0.7"/><line x1="433.2" y1="220.4" x2="434.8" y2="220.4" stroke="#333" stroke-width="0.7"/><line x1="433.2" y1="222.9" x2="434.8" y2="222.9" stroke="#333" stroke-width="0.7"/><line x1="433.2" y1="218.5" x2="434.8" y2="218.5" stroke="#333" stroke-width="0.7"/><line x1="433.2" y1="225.5" x2="434.8" y2="225.5" stroke="#333" stroke-width="0.7"/><line x1="433.2" y1="192.0" x2="434.8" y2="192.0" stroke="#333" stroke-width="0.7"/><line x1="433.2" y1="174.0" x2="434.8" y2="174.0" stroke="#333" stroke-width="0.7"/><line x1="433.2" y1="211.0" x2="434.8" y2="211.0" stroke="#333" stroke-width="0.7"/><line x1="437.8" y1="230.9" x2="437.8" y2="232.5" stroke="#333" stroke-width="0.7"/><line x1="439.8" y1="230.9" x2="439.8" y2="232.5" stroke="#333" stroke-width="0.7"/><line x1="441.8" y1="230.9" x2="441.8" y2="232.5" stroke="#333" stroke-width="0.7"/><line x1="443.8" y1="230.9" x2="443.8" y2="232.5" stroke="#333" stroke-width="0.7"/><line x1="445.5" y1="230.9" x2="445.5" y2="232.5" stroke="#333" stroke-width="0.7"/><line x1="447.40000000000003" y1="230.9" x2="447.40000000000003" y2="232.5" stroke="#333" stroke-width="0.7"/><line x1="449.8" y1="230.9" x2="449.8" y2="232.5" stroke="#333" stroke-width="0.7"/><line x1="453.8" y1="230.9" x2="453.8" y2="232.5" stroke="#333" stroke-width="0.7"/><line x1="455.8" y1="230.9" x2="455.8" y2="232.5" stroke="#333" stroke-width="0.7"/><line x1="460.7" y1="230.9" x2="460.7" y2="232.5" stroke="#333" stroke-width="0.7"/><line x1="467.8" y1="230.9" x2="467.8" y2="232.5" stroke="#333" stroke-width="0.7"/><line x1="472.8" y1="230.9" x2="472.8" y2="232.5" stroke="#333" stroke-width="0.7"/><line x1="475.8" y1="230.9" x2="475.8" y2="232.5" stroke="#333" stroke-width="0.7"/><line x1="478.3" y1="230.9" x2="478.3" y2="232.5" stroke="#333" stroke-width="0.7"/><line x1="480.3" y1="230.9" x2="480.3" y2="232.5" stroke="#333" stroke-width="0.7"/><line x1="482.2" y1="230.9" x2="482.2" y2="232.5" stroke="#333" stroke-width="0.7"/><line x1="489.8" y1="230.9" x2="489.8" y2="232.5" stroke="#333" stroke-width="0.7"/><line x1="493.8" y1="230.9" x2="493.8" y2="232.5" stroke="#333" stroke-width="0.7"/><line x1="496.3" y1="230.9" x2="496.3" y2="232.5" stroke="#333" stroke-width="0.7"/><line x1="497.8" y1="230.9" x2="497.8" y2="232.5" stroke="#333" stroke-width="0.7"/><line x1="499.4" y1="230.9" x2="499.4" y2="232.5" stroke="#333" stroke-width="0.7"/><line x1="506.8" y1="230.9" x2="506.8" y2="232.5" stroke="#333" stroke-width="0.7"/><line x1="510.8" y1="230.9" x2="510.8" y2="232.5" stroke="#333" stroke-width="0.7"/><line x1="513.8" y1="230.9" x2="513.8" y2="232.5" stroke="#333" stroke-width="0.7"/><text x="432.6" y="167.0" font-size="4.1" text-anchor="end" fill="#555" style="stroke:none">10<tspan font-size="2.9" dy="-1.7">4</tspan></text><text x="432.6" y="185.5" font-size="4.1" text-anchor="end" fill="#555" style="stroke:none">10<tspan font-size="2.9" dy="-1.7">3</tspan></text><text x="432.6" y="206.0" font-size="4.1" text-anchor="end" fill="#555" style="stroke:none">10<tspan font-size="2.9" dy="-1.7">2</tspan></text><text x="432.6" y="223.2" font-size="4.1" text-anchor="end" fill="#555" style="stroke:none">0</text><text x="444.5" y="239.1" font-size="4.1" text-anchor="middle" fill="#555" style="stroke:none">0</text><text x="461.90000000000003" y="239.1" font-size="4.1" text-anchor="middle" fill="#555" style="stroke:none">10<tspan font-size="2.9" dy="-1.7">1</tspan></text><text x="481.1" y="239.1" font-size="4.1" text-anchor="middle" fill="#555" style="stroke:none">10<tspan font-size="2.9" dy="-1.7">2</tspan></text><text x="500.3" y="239.1" font-size="4.1" text-anchor="middle" fill="#555" style="stroke:none">10<tspan font-size="2.9" dy="-1.7">3</tspan></text><line x1="312.3" y1="167.4" x2="312.3" y2="216.2" stroke="#111" stroke-width="1.3"/><polygon points="312.3,163.4 309.6,168.4 315.0,168.4" fill="#000"/><text x="315.4" y="226.0" font-size="6.4" text-anchor="middle" font-weight="normal" fill="#111" transform="rotate(-90 315.4 226.0)">CD19</text><text x="323.3" y="246.7" font-size="6.4" text-anchor="start" font-weight="normal" fill="#111">NK1.1</text><line x1="341.6" y1="244.1" x2="500.3" y2="244.1" stroke="#111" stroke-width="1.3"/><polygon points="504.3,244.1 499.3,241.79999999999998 499.3,246.4" fill="#000"/><line x1="334.9" y1="275.3" x2="334.9" y2="357.59999999999997" stroke="#ebebeb" stroke-width="0.7"/><line x1="337.7" y1="275.3" x2="337.7" y2="357.59999999999997" stroke="#ebebeb" stroke-width="0.7"/><line x1="348.2" y1="275.3" x2="348.2" y2="357.59999999999997" stroke="#f3f3f3" stroke-width="0.7"/><line x1="352.2" y1="275.3" x2="352.2" y2="357.59999999999997" stroke="#ebebeb" stroke-width="0.7"/><line x1="372.8" y1="275.3" x2="372.8" y2="357.59999999999997" stroke="#ebebeb" stroke-width="0.7"/><line x1="390.2" y1="275.3" x2="390.2" y2="357.59999999999997" stroke="#ebebeb" stroke-width="0.7"/><line x1="326.1" y1="293.09999999999997" x2="408.5" y2="293.09999999999997" stroke="#ebebeb" stroke-width="0.7"/><line x1="326.1" y1="311.59999999999997" x2="408.5" y2="311.59999999999997" stroke="#ebebeb" stroke-width="0.7"/><line x1="326.1" y1="332.09999999999997" x2="408.5" y2="332.09999999999997" stroke="#ebebeb" stroke-width="0.7"/><line x1="326.1" y1="344.9" x2="408.5" y2="344.9" stroke="#f3f3f3" stroke-width="0.7"/><line x1="326.1" y1="347.7" x2="408.5" y2="347.7" stroke="#ebebeb" stroke-width="0.7"/><line x1="326.1" y1="350.29999999999995" x2="408.5" y2="350.29999999999995" stroke="#ebebeb" stroke-width="0.7"/><rect x="325.5" y="274.7" width="83.6" height="83.5" fill="none" stroke="#333" stroke-width="1.2"/><line x1="323.9" y1="293.09999999999997" x2="325.5" y2="293.09999999999997" stroke="#333" stroke-width="0.7"/><line x1="323.9" y1="311.59999999999997" x2="325.5" y2="311.59999999999997" stroke="#333" stroke-width="0.7"/><line x1="323.9" y1="331.9" x2="325.5" y2="331.9" stroke="#333" stroke-width="0.7"/><line x1="323.9" y1="348.1" x2="325.5" y2="348.1" stroke="#333" stroke-width="0.7"/><line x1="323.9" y1="350.6" x2="325.5" y2="350.6" stroke="#333" stroke-width="0.7"/><line x1="323.9" y1="346.2" x2="325.5" y2="346.2" stroke="#333" stroke-width="0.7"/><line x1="323.9" y1="353.2" x2="325.5" y2="353.2" stroke="#333" stroke-width="0.7"/><line x1="323.9" y1="319.7" x2="325.5" y2="319.7" stroke="#333" stroke-width="0.7"/><line x1="323.9" y1="301.7" x2="325.5" y2="301.7" stroke="#333" stroke-width="0.7"/><line x1="323.9" y1="338.7" x2="325.5" y2="338.7" stroke="#333" stroke-width="0.7"/><line x1="328.5" y1="358.2" x2="328.5" y2="359.8" stroke="#333" stroke-width="0.7"/><line x1="330.5" y1="358.2" x2="330.5" y2="359.8" stroke="#333" stroke-width="0.7"/><line x1="332.5" y1="358.2" x2="332.5" y2="359.8" stroke="#333" stroke-width="0.7"/><line x1="334.5" y1="358.2" x2="334.5" y2="359.8" stroke="#333" stroke-width="0.7"/><line x1="336.2" y1="358.2" x2="336.2" y2="359.8" stroke="#333" stroke-width="0.7"/><line x1="338.1" y1="358.2" x2="338.1" y2="359.8" stroke="#333" stroke-width="0.7"/><line x1="340.5" y1="358.2" x2="340.5" y2="359.8" stroke="#333" stroke-width="0.7"/><line x1="344.5" y1="358.2" x2="344.5" y2="359.8" stroke="#333" stroke-width="0.7"/><line x1="346.5" y1="358.2" x2="346.5" y2="359.8" stroke="#333" stroke-width="0.7"/><line x1="351.4" y1="358.2" x2="351.4" y2="359.8" stroke="#333" stroke-width="0.7"/><line x1="358.5" y1="358.2" x2="358.5" y2="359.8" stroke="#333" stroke-width="0.7"/><line x1="363.5" y1="358.2" x2="363.5" y2="359.8" stroke="#333" stroke-width="0.7"/><line x1="366.5" y1="358.2" x2="366.5" y2="359.8" stroke="#333" stroke-width="0.7"/><line x1="369.0" y1="358.2" x2="369.0" y2="359.8" stroke="#333" stroke-width="0.7"/><line x1="371.0" y1="358.2" x2="371.0" y2="359.8" stroke="#333" stroke-width="0.7"/><line x1="372.9" y1="358.2" x2="372.9" y2="359.8" stroke="#333" stroke-width="0.7"/><line x1="380.5" y1="358.2" x2="380.5" y2="359.8" stroke="#333" stroke-width="0.7"/><line x1="384.5" y1="358.2" x2="384.5" y2="359.8" stroke="#333" stroke-width="0.7"/><line x1="387.0" y1="358.2" x2="387.0" y2="359.8" stroke="#333" stroke-width="0.7"/><line x1="388.5" y1="358.2" x2="388.5" y2="359.8" stroke="#333" stroke-width="0.7"/><line x1="390.1" y1="358.2" x2="390.1" y2="359.8" stroke="#333" stroke-width="0.7"/><line x1="397.5" y1="358.2" x2="397.5" y2="359.8" stroke="#333" stroke-width="0.7"/><line x1="401.5" y1="358.2" x2="401.5" y2="359.8" stroke="#333" stroke-width="0.7"/><line x1="404.5" y1="358.2" x2="404.5" y2="359.8" stroke="#333" stroke-width="0.7"/><text x="323.3" y="294.7" font-size="4.1" text-anchor="end" fill="#555" style="stroke:none">10<tspan font-size="2.9" dy="-1.7">4</tspan></text><text x="323.3" y="313.2" font-size="4.1" text-anchor="end" fill="#555" style="stroke:none">10<tspan font-size="2.9" dy="-1.7">3</tspan></text><text x="323.3" y="333.7" font-size="4.1" text-anchor="end" fill="#555" style="stroke:none">10<tspan font-size="2.9" dy="-1.7">2</tspan></text><text x="323.3" y="350.9" font-size="4.1" text-anchor="end" fill="#555" style="stroke:none">0</text><text x="335.2" y="366.4" font-size="4.1" text-anchor="middle" fill="#555" style="stroke:none">0</text><text x="352.6" y="366.4" font-size="4.1" text-anchor="middle" fill="#555" style="stroke:none">10<tspan font-size="2.9" dy="-1.7">1</tspan></text><text x="371.8" y="366.4" font-size="4.1" text-anchor="middle" fill="#555" style="stroke:none">10<tspan font-size="2.9" dy="-1.7">2</tspan></text><text x="391.0" y="366.4" font-size="4.1" text-anchor="middle" fill="#555" style="stroke:none">10<tspan font-size="2.9" dy="-1.7">3</tspan></text><line x1="444.0" y1="275.3" x2="444.0" y2="357.59999999999997" stroke="#ebebeb" stroke-width="0.7"/><line x1="446.8" y1="275.3" x2="446.8" y2="357.59999999999997" stroke="#ebebeb" stroke-width="0.7"/><line x1="457.3" y1="275.3" x2="457.3" y2="357.59999999999997" stroke="#f3f3f3" stroke-width="0.7"/><line x1="461.3" y1="275.3" x2="461.3" y2="357.59999999999997" stroke="#ebebeb" stroke-width="0.7"/><line x1="481.90000000000003" y1="275.3" x2="481.90000000000003" y2="357.59999999999997" stroke="#ebebeb" stroke-width="0.7"/><line x1="499.3" y1="275.3" x2="499.3" y2="357.59999999999997" stroke="#ebebeb" stroke-width="0.7"/><line x1="435.20000000000005" y1="293.09999999999997" x2="517.8" y2="293.09999999999997" stroke="#ebebeb" stroke-width="0.7"/><line x1="435.20000000000005" y1="311.59999999999997" x2="517.8" y2="311.59999999999997" stroke="#ebebeb" stroke-width="0.7"/><line x1="435.20000000000005" y1="332.09999999999997" x2="517.8" y2="332.09999999999997" stroke="#ebebeb" stroke-width="0.7"/><line x1="435.20000000000005" y1="344.9" x2="517.8" y2="344.9" stroke="#f3f3f3" stroke-width="0.7"/><line x1="435.20000000000005" y1="347.7" x2="517.8" y2="347.7" stroke="#ebebeb" stroke-width="0.7"/><line x1="435.20000000000005" y1="350.29999999999995" x2="517.8" y2="350.29999999999995" stroke="#ebebeb" stroke-width="0.7"/><rect x="434.6" y="274.7" width="83.8" height="83.5" fill="none" stroke="#333" stroke-width="1.2"/><line x1="433.0" y1="293.09999999999997" x2="434.6" y2="293.09999999999997" stroke="#333" stroke-width="0.7"/><line x1="433.0" y1="311.59999999999997" x2="434.6" y2="311.59999999999997" stroke="#333" stroke-width="0.7"/><line x1="433.0" y1="331.9" x2="434.6" y2="331.9" stroke="#333" stroke-width="0.7"/><line x1="433.0" y1="348.1" x2="434.6" y2="348.1" stroke="#333" stroke-width="0.7"/><line x1="433.0" y1="350.6" x2="434.6" y2="350.6" stroke="#333" stroke-width="0.7"/><line x1="433.0" y1="346.2" x2="434.6" y2="346.2" stroke="#333" stroke-width="0.7"/><line x1="433.0" y1="353.2" x2="434.6" y2="353.2" stroke="#333" stroke-width="0.7"/><line x1="433.0" y1="319.7" x2="434.6" y2="319.7" stroke="#333" stroke-width="0.7"/><line x1="433.0" y1="301.7" x2="434.6" y2="301.7" stroke="#333" stroke-width="0.7"/><line x1="433.0" y1="338.7" x2="434.6" y2="338.7" stroke="#333" stroke-width="0.7"/><line x1="437.6" y1="358.2" x2="437.6" y2="359.8" stroke="#333" stroke-width="0.7"/><line x1="439.6" y1="358.2" x2="439.6" y2="359.8" stroke="#333" stroke-width="0.7"/><line x1="441.6" y1="358.2" x2="441.6" y2="359.8" stroke="#333" stroke-width="0.7"/><line x1="443.6" y1="358.2" x2="443.6" y2="359.8" stroke="#333" stroke-width="0.7"/><line x1="445.3" y1="358.2" x2="445.3" y2="359.8" stroke="#333" stroke-width="0.7"/><line x1="447.20000000000005" y1="358.2" x2="447.20000000000005" y2="359.8" stroke="#333" stroke-width="0.7"/><line x1="449.6" y1="358.2" x2="449.6" y2="359.8" stroke="#333" stroke-width="0.7"/><line x1="453.6" y1="358.2" x2="453.6" y2="359.8" stroke="#333" stroke-width="0.7"/><line x1="455.6" y1="358.2" x2="455.6" y2="359.8" stroke="#333" stroke-width="0.7"/><line x1="460.5" y1="358.2" x2="460.5" y2="359.8" stroke="#333" stroke-width="0.7"/><line x1="467.6" y1="358.2" x2="467.6" y2="359.8" stroke="#333" stroke-width="0.7"/><line x1="472.6" y1="358.2" x2="472.6" y2="359.8" stroke="#333" stroke-width="0.7"/><line x1="475.6" y1="358.2" x2="475.6" y2="359.8" stroke="#333" stroke-width="0.7"/><line x1="478.1" y1="358.2" x2="478.1" y2="359.8" stroke="#333" stroke-width="0.7"/><line x1="480.1" y1="358.2" x2="480.1" y2="359.8" stroke="#333" stroke-width="0.7"/><line x1="482.0" y1="358.2" x2="482.0" y2="359.8" stroke="#333" stroke-width="0.7"/><line x1="489.6" y1="358.2" x2="489.6" y2="359.8" stroke="#333" stroke-width="0.7"/><line x1="493.6" y1="358.2" x2="493.6" y2="359.8" stroke="#333" stroke-width="0.7"/><line x1="496.1" y1="358.2" x2="496.1" y2="359.8" stroke="#333" stroke-width="0.7"/><line x1="497.6" y1="358.2" x2="497.6" y2="359.8" stroke="#333" stroke-width="0.7"/><line x1="499.20000000000005" y1="358.2" x2="499.20000000000005" y2="359.8" stroke="#333" stroke-width="0.7"/><line x1="506.6" y1="358.2" x2="506.6" y2="359.8" stroke="#333" stroke-width="0.7"/><line x1="510.6" y1="358.2" x2="510.6" y2="359.8" stroke="#333" stroke-width="0.7"/><line x1="513.6" y1="358.2" x2="513.6" y2="359.8" stroke="#333" stroke-width="0.7"/><text x="432.40000000000003" y="294.7" font-size="4.1" text-anchor="end" fill="#555" style="stroke:none">10<tspan font-size="2.9" dy="-1.7">4</tspan></text><text x="432.40000000000003" y="313.2" font-size="4.1" text-anchor="end" fill="#555" style="stroke:none">10<tspan font-size="2.9" dy="-1.7">3</tspan></text><text x="432.40000000000003" y="333.7" font-size="4.1" text-anchor="end" fill="#555" style="stroke:none">10<tspan font-size="2.9" dy="-1.7">2</tspan></text><text x="432.40000000000003" y="350.9" font-size="4.1" text-anchor="end" fill="#555" style="stroke:none">0</text><text x="444.3" y="366.4" font-size="4.1" text-anchor="middle" fill="#555" style="stroke:none">0</text><text x="461.70000000000005" y="366.4" font-size="4.1" text-anchor="middle" fill="#555" style="stroke:none">10<tspan font-size="2.9" dy="-1.7">1</tspan></text><text x="480.90000000000003" y="366.4" font-size="4.1" text-anchor="middle" fill="#555" style="stroke:none">10<tspan font-size="2.9" dy="-1.7">2</tspan></text><text x="500.1" y="366.4" font-size="4.1" text-anchor="middle" fill="#555" style="stroke:none">10<tspan font-size="2.9" dy="-1.7">3</tspan></text><line x1="312.3" y1="294.2" x2="312.3" y2="338.2" stroke="#111" stroke-width="1.3"/><polygon points="312.3,290.2 309.6,295.2 315.0,295.2" fill="#000"/><text x="315.8" y="351.2" font-size="6.4" text-anchor="middle" font-weight="normal" fill="#111" transform="rotate(-90 315.8 351.2)">THY1.2</text><text x="322.8" y="373.8" font-size="6.4" text-anchor="start" font-weight="normal" fill="#111">CD19</text><line x1="341.1" y1="371.1" x2="500.3" y2="371.1" stroke="#111" stroke-width="1.3"/><polygon points="504.3,371.1 499.3,368.8 499.3,373.40000000000003" fill="#000"/><text x="367.6" y="12.0" font-size="8" text-anchor="middle" font-weight="normal" fill="#111">CLP Rag1<tspan font-size="5.2" dy="-2.8">low</tspan></text><text x="476.5" y="12.0" font-size="8" text-anchor="middle" font-weight="normal" fill="#111">CLP &#955;5Tg<tspan font-size="5.2" dy="-2.8">+</tspan></text><defs><clipPath id="cA1"><rect x="325.5" y="21.1" width="82.6" height="83.0"/></clipPath><clipPath id="cA2"><rect x="435.8" y="21.1" width="82.8" height="83.0"/></clipPath><clipPath id="cB1"><rect x="325.6" y="147.6" width="82.6" height="82.7"/></clipPath><clipPath id="cB2"><rect x="435.40000000000003" y="147.6" width="82.7" height="82.7"/></clipPath><clipPath id="cC1"><rect x="326.1" y="275.3" width="82.39999999999999" height="82.3"/></clipPath><clipPath id="cC2"><rect x="435.20000000000005" y="275.3" width="82.6" height="82.3"/></clipPath></defs><g fill="#111"><circle cx="375.8" cy="87.0" r="0.5"/><circle cx="381.6" cy="79.9" r="0.5"/><circle cx="375.5" cy="83.5" r="0.5"/><circle cx="380.2" cy="92.8" r="0.5"/><circle cx="375.8" cy="73.7" r="0.5"/><circle cx="380.8" cy="87.8" r="0.5"/><circle cx="383.0" cy="91.9" r="0.5"/><circle cx="378.7" cy="81.8" r="0.5"/><circle cx="385.7" cy="81.7" r="0.5"/><circle cx="377.0" cy="74.9" r="0.5"/><circle cx="379.2" cy="85.2" r="0.5"/><circle cx="378.1" cy="83.5" r="0.5"/><circle cx="379.7" cy="89.5" r="0.5"/><circle cx="381.9" cy="85.7" r="0.5"/><circle cx="374.3" cy="89.6" r="0.5"/><circle cx="375.3" cy="82.6" r="0.5"/><circle cx="375.2" cy="84.0" r="0.5"/><circle cx="377.0" cy="85.7" r="0.5"/><circle cx="387.6" cy="83.6" r="0.5"/><circle cx="381.2" cy="73.4" r="0.5"/><circle cx="378.3" cy="89.3" r="0.5"/><circle cx="378.8" cy="87.0" r="0.5"/><circle cx="379.3" cy="76.0" r="0.5"/><circle cx="380.5" cy="77.5" r="0.5"/><circle cx="383.9" cy="80.0" r="0.5"/><circle cx="380.8" cy="84.0" r="0.5"/><circle cx="381.5" cy="79.2" r="0.5"/><circle cx="381.6" cy="83.0" r="0.5"/><circle cx="382.3" cy="89.0" r="0.5"/><circle cx="379.4" cy="77.8" r="0.5"/><circle cx="381.0" cy="87.7" r="0.5"/><circle cx="383.3" cy="81.0" r="0.5"/><circle cx="380.4" cy="88.1" r="0.5"/><circle cx="379.7" cy="85.7" r="0.5"/><circle cx="379.5" cy="79.2" r="0.5"/><circle cx="376.4" cy="80.8" r="0.5"/><circle cx="380.5" cy="96.1" r="0.5"/><circle cx="381.5" cy="92.4" r="0.5"/><circle cx="381.0" cy="89.6" r="0.5"/><circle cx="379.5" cy="90.2" r="0.5"/><circle cx="383.6" cy="81.4" r="0.5"/><circle cx="377.2" cy="99.7" r="0.5"/><circle cx="379.6" cy="91.8" r="0.5"/><circle cx="381.3" cy="74.9" r="0.5"/><circle cx="385.3" cy="98.2" r="0.5"/><circle cx="379.5" cy="90.0" r="0.5"/><circle cx="379.3" cy="76.9" r="0.5"/><circle cx="378.7" cy="87.0" r="0.5"/><circle cx="381.9" cy="89.7" r="0.5"/><circle cx="379.2" cy="94.8" r="0.5"/><circle cx="377.0" cy="90.3" r="0.5"/><circle cx="381.9" cy="81.7" r="0.5"/><circle cx="374.3" cy="76.7" r="0.5"/><circle cx="379.6" cy="88.2" r="0.5"/><circle cx="383.0" cy="76.0" r="0.5"/></g><g fill="#111"><circle cx="378.9" cy="89.1" r="0.45"/><circle cx="381.5" cy="74.1" r="0.45"/><circle cx="372.6" cy="80.9" r="0.45"/><circle cx="376.2" cy="93.5" r="0.45"/><circle cx="381.8" cy="87.4" r="0.45"/><circle cx="380.0" cy="89.2" r="0.45"/><circle cx="374.5" cy="82.8" r="0.45"/><circle cx="374.7" cy="96.3" r="0.45"/><circle cx="373.3" cy="93.7" r="0.45"/><circle cx="373.5" cy="89.9" r="0.45"/><circle cx="377.0" cy="81.7" r="0.45"/><circle cx="383.9" cy="70.5" r="0.45"/><circle cx="373.3" cy="96.5" r="0.45"/><circle cx="379.4" cy="72.6" r="0.45"/><circle cx="385.8" cy="97.5" r="0.45"/><circle cx="374.0" cy="82.3" r="0.45"/><circle cx="374.3" cy="79.1" r="0.45"/><circle cx="380.9" cy="74.7" r="0.45"/><circle cx="381.9" cy="71.5" r="0.45"/><circle cx="374.8" cy="93.7" r="0.45"/><circle cx="377.9" cy="82.1" r="0.45"/><circle cx="380.5" cy="83.8" r="0.45"/><circle cx="377.7" cy="70.9" r="0.45"/><circle cx="382.3" cy="98.1" r="0.45"/><circle cx="385.7" cy="89.2" r="0.45"/><circle cx="377.3" cy="80.5" r="0.45"/><circle cx="381.8" cy="89.5" r="0.45"/><circle cx="374.0" cy="76.8" r="0.45"/><circle cx="377.4" cy="84.8" r="0.45"/><circle cx="383.4" cy="84.5" r="0.45"/></g><g fill="#111"><circle cx="379.3" cy="104.0" r="0.6"/><circle cx="378.1" cy="101.0" r="0.6"/><circle cx="380.0" cy="103.2" r="0.6"/><circle cx="380.3" cy="103.1" r="0.6"/><circle cx="379.4" cy="102.1" r="0.6"/><circle cx="378.3" cy="102.5" r="0.6"/><circle cx="379.0" cy="103.5" r="0.6"/><circle cx="380.8" cy="101.5" r="0.6"/><circle cx="380.9" cy="102.7" r="0.6"/><circle cx="381.7" cy="104.1" r="0.6"/><circle cx="380.7" cy="101.1" r="0.6"/><circle cx="380.9" cy="101.3" r="0.6"/><circle cx="382.5" cy="102.1" r="0.6"/><circle cx="379.4" cy="104.4" r="0.6"/><circle cx="376.5" cy="102.7" r="0.6"/><circle cx="377.7" cy="102.2" r="0.6"/><circle cx="378.2" cy="103.3" r="0.6"/><circle cx="379.1" cy="103.0" r="0.6"/></g><path d="M372 56 C 373 64, 375 72, 377.5 74 C 380 73, 384 67, 387.5 58 Z" fill="#f4f4f4" stroke="#222" stroke-width="0.6"/><path d="M373.5 57 C 374.5 63, 376 68, 378 70 C 380 69, 383 64, 385.5 57" fill="none" stroke="#333" stroke-width="0.5"/><g transform="translate(381 50.2) rotate(12)"><path d="M-9.3 0 A9.3 16.3 0 1 0 9.3 0 A9.3 16.3 0 1 0 -9.3 0 Z" fill="#eeeeee" stroke="#222" stroke-width="0.6"/><path d="M-8.2 0 A8.2 13.8 0 1 0 8.2 0 A8.2 13.8 0 1 0 -8.2 0 Z" fill="#cfcfcf" stroke="#333" stroke-width="0.5"/><path d="M-7.2 0 A7.2 11.4 0 1 0 7.2 0 A7.2 11.4 0 1 0 -7.2 0 Z" fill="#8a8a8a" stroke="#222" stroke-width="0.5"/></g><g transform="translate(380.0 50.3) rotate(12)"><path d="M-6.1 0 A6.1 7.8 0 1 0 6.1 0 A6.1 7.8 0 1 0 -6.1 0 Z" fill="#0a0a0a"/><ellipse cx="0.2" cy="0" rx="0.9" ry="5.6" fill="#b0b0b0"/></g><g fill="#111"><circle cx="376.4" cy="60.2" r="0.5"/><circle cx="374.9" cy="36.1" r="0.5"/><circle cx="373.5" cy="57.9" r="0.5"/><circle cx="377.1" cy="40.5" r="0.5"/><circle cx="371.4" cy="63.0" r="0.5"/><circle cx="369.9" cy="59.5" r="0.5"/><circle cx="375.5" cy="56.0" r="0.5"/><circle cx="377.8" cy="48.1" r="0.5"/><circle cx="371.7" cy="66.0" r="0.5"/><circle cx="374.8" cy="48.5" r="0.5"/><circle cx="372.4" cy="47.6" r="0.5"/><circle cx="374.7" cy="62.2" r="0.5"/><circle cx="375.5" cy="57.3" r="0.5"/><circle cx="375.9" cy="54.9" r="0.5"/><circle cx="377.7" cy="51.4" r="0.5"/><circle cx="377.7" cy="52.1" r="0.5"/><circle cx="373.2" cy="41.2" r="0.5"/><circle cx="375.3" cy="48.4" r="0.5"/><circle cx="373.3" cy="45.5" r="0.5"/><circle cx="374.8" cy="55.3" r="0.5"/><circle cx="378.5" cy="45.8" r="0.5"/><circle cx="374.2" cy="60.3" r="0.5"/><circle cx="373.0" cy="65.9" r="0.5"/><circle cx="373.9" cy="51.7" r="0.5"/><circle cx="376.1" cy="49.0" r="0.5"/><circle cx="374.5" cy="53.8" r="0.5"/><circle cx="375.7" cy="48.1" r="0.5"/><circle cx="374.1" cy="51.2" r="0.5"/><circle cx="371.0" cy="52.7" r="0.5"/><circle cx="372.8" cy="49.6" r="0.5"/></g><g fill="#111"><circle cx="382.1" cy="49.9" r="0.45"/><circle cx="382.0" cy="43.6" r="0.45"/><circle cx="382.3" cy="50.1" r="0.45"/><circle cx="390.9" cy="40.4" r="0.45"/><circle cx="406.1" cy="18.9" r="0.45"/><circle cx="379.3" cy="59.8" r="0.45"/><circle cx="381.3" cy="41.3" r="0.45"/><circle cx="378.9" cy="57.6" r="0.45"/><circle cx="393.4" cy="34.8" r="0.45"/><circle cx="384.0" cy="43.0" r="0.45"/><circle cx="389.5" cy="45.7" r="0.45"/><circle cx="379.4" cy="62.0" r="0.45"/><circle cx="378.1" cy="51.6" r="0.45"/><circle cx="375.9" cy="44.7" r="0.45"/><circle cx="368.9" cy="36.4" r="0.45"/><circle cx="378.6" cy="40.4" r="0.45"/><circle cx="401.3" cy="26.5" r="0.45"/><circle cx="364.2" cy="48.1" r="0.45"/><circle cx="384.6" cy="51.5" r="0.45"/><circle cx="383.8" cy="74.0" r="0.45"/><circle cx="380.4" cy="33.2" r="0.45"/><circle cx="376.6" cy="61.9" r="0.45"/><circle cx="384.1" cy="47.3" r="0.45"/><circle cx="382.1" cy="52.6" r="0.45"/><circle cx="367.3" cy="51.3" r="0.45"/></g><g fill="#111"><circle cx="371.8" cy="65.1" r="0.55"/><circle cx="376.4" cy="65.3" r="0.55"/><circle cx="375.3" cy="60.6" r="0.55"/><circle cx="374.5" cy="64.6" r="0.55"/><circle cx="376.7" cy="66.6" r="0.55"/><circle cx="375.0" cy="63.3" r="0.55"/><circle cx="373.4" cy="66.0" r="0.55"/><circle cx="377.5" cy="59.1" r="0.55"/><circle cx="369.7" cy="73.3" r="0.55"/><circle cx="378.0" cy="68.4" r="0.55"/><circle cx="375.7" cy="64.6" r="0.55"/><circle cx="374.4" cy="61.7" r="0.55"/><circle cx="376.2" cy="65.3" r="0.55"/><circle cx="371.4" cy="64.2" r="0.55"/></g><line x1="364.5" y1="57.5" x2="367.5" y2="57.5" stroke="#333" stroke-width="0.8"/><line x1="368" y1="51.5" x2="370.5" y2="51.5" stroke="#222" stroke-width="0.8"/><g fill="#444"><circle cx="369.4" cy="63.6" r="0.45"/><circle cx="372.0" cy="61.3" r="0.45"/><circle cx="371.7" cy="76.0" r="0.45"/><circle cx="364.4" cy="74.4" r="0.45"/><circle cx="352.5" cy="51.1" r="0.45"/><circle cx="368.1" cy="39.9" r="0.45"/></g><g transform="translate(491.0 46.0) rotate(30)"><path d="M-8.6 0 A8.6 13.6 0 1 0 8.6 0 A8.6 13.6 0 1 0 -8.6 0 Z" fill="#f2f2f2" stroke="#222" stroke-width="0.6"/><path d="M-7.5 0 A7.5 11.6 0 1 0 7.5 0 A7.5 11.6 0 1 0 -7.5 0 Z" fill="#dcdcdc" stroke="#333" stroke-width="0.5"/><path d="M-6.4 0 A6.4 9.6 0 1 0 6.4 0 A6.4 9.6 0 1 0 -6.4 0 Z" fill="#999" stroke="#222" stroke-width="0.5"/></g><g transform="translate(491.2 45.2) rotate(30)"><path d="M-5.1 0 A5.1 7.6 0 1 0 5.1 0 A5.1 7.6 0 1 0 -5.1 0 Z" fill="#0a0a0a"/><ellipse cx="0" cy="0" rx="0.8" ry="4.6" fill="#bbb"/></g><g fill="#111"><circle cx="486.9" cy="60.3" r="0.45"/><circle cx="483.1" cy="51.6" r="0.45"/><circle cx="485.9" cy="61.9" r="0.45"/><circle cx="486.1" cy="50.5" r="0.45"/><circle cx="483.2" cy="54.9" r="0.45"/><circle cx="487.4" cy="55.1" r="0.45"/><circle cx="484.2" cy="54.2" r="0.45"/><circle cx="485.5" cy="52.2" r="0.45"/><circle cx="485.1" cy="56.2" r="0.45"/><circle cx="489.1" cy="54.9" r="0.45"/><circle cx="487.4" cy="51.1" r="0.45"/><circle cx="487.2" cy="55.8" r="0.45"/><circle cx="483.8" cy="55.0" r="0.45"/><circle cx="487.3" cy="53.9" r="0.45"/><circle cx="487.6" cy="61.1" r="0.45"/><circle cx="489.1" cy="61.5" r="0.45"/><circle cx="482.0" cy="56.5" r="0.45"/><circle cx="483.4" cy="58.8" r="0.45"/><circle cx="485.3" cy="56.0" r="0.45"/><circle cx="486.2" cy="52.8" r="0.45"/><circle cx="485.3" cy="52.3" r="0.45"/><circle cx="490.2" cy="53.3" r="0.45"/><circle cx="485.1" cy="48.2" r="0.45"/><circle cx="481.5" cy="51.9" r="0.45"/><circle cx="487.0" cy="58.2" r="0.45"/></g><g fill="#111"><circle cx="494.4" cy="46.5" r="0.45"/><circle cx="507.2" cy="61.0" r="0.45"/><circle cx="490.0" cy="50.2" r="0.45"/><circle cx="491.6" cy="38.6" r="0.45"/><circle cx="496.0" cy="44.1" r="0.45"/><circle cx="496.4" cy="46.8" r="0.45"/><circle cx="487.5" cy="29.7" r="0.45"/><circle cx="495.7" cy="27.1" r="0.45"/><circle cx="491.9" cy="43.4" r="0.45"/><circle cx="500.2" cy="41.9" r="0.45"/><circle cx="487.0" cy="50.0" r="0.45"/><circle cx="499.9" cy="40.0" r="0.45"/><circle cx="502.2" cy="45.7" r="0.45"/><circle cx="498.9" cy="47.3" r="0.45"/><circle cx="494.6" cy="34.5" r="0.45"/><circle cx="479.1" cy="65.1" r="0.45"/><circle cx="480.3" cy="56.6" r="0.45"/><circle cx="500.1" cy="47.0" r="0.45"/><circle cx="490.5" cy="60.9" r="0.45"/><circle cx="491.9" cy="40.7" r="0.45"/></g><line x1="497.5" y1="34.5" x2="501.5" y2="35" stroke="#111" stroke-width="1"/><circle cx="478.5" cy="67.5" r="0.5" fill="#222"/><g clip-path="url(#cB1)"><path d="M0 -16.2 C 12 -16, 22 -9.5, 25 -1.5 C 26.5 3.5, 20 9, 13 13 C 7 16.5, 4 21, 1 27 L 0 27 Z" transform="translate(325.5 177) scale(1.0)" fill="#f8f8f8" stroke="#222" stroke-width="0.6" vector-effect="non-scaling-stroke"/><path d="M0 -16.2 C 12 -16, 22 -9.5, 25 -1.5 C 26.5 3.5, 20 9, 13 13 C 7 16.5, 4 21, 1 27 L 0 27 Z" transform="translate(325.5 177) scale(0.86)" fill="#e6e6e6" stroke="#222" stroke-width="0.6" vector-effect="non-scaling-stroke"/><path d="M0 -16.2 C 12 -16, 22 -9.5, 25 -1.5 C 26.5 3.5, 20 9, 13 13 C 7 16.5, 4 21, 1 27 L 0 27 Z" transform="translate(325.5 177) scale(0.72)" fill="#cfcfcf" stroke="#222" stroke-width="0.6" vector-effect="non-scaling-stroke"/><path d="M0 -16.2 C 12 -16, 22 -9.5, 25 -1.5 C 26.5 3.5, 20 9, 13 13 C 7 16.5, 4 21, 1 27 L 0 27 Z" transform="translate(325.5 177) scale(0.58)" fill="#a8a8a8" stroke="#222" stroke-width="0.6" vector-effect="non-scaling-stroke"/><path d="M0 -16.2 C 12 -16, 22 -9.5, 25 -1.5 C 26.5 3.5, 20 9, 13 13 C 7 16.5, 4 21, 1 27 L 0 27 Z" transform="translate(325.5 177) scale(0.44)" fill="#777" stroke="#222" stroke-width="0.6" vector-effect="non-scaling-stroke"/></g><path d="M325.5 161 C 328.5 165, 330 172, 330 179 C 330 186, 328.5 191, 325.5 196 Z" fill="#1a1a1a" clip-path="url(#cB1)"/><g fill="#111"><circle cx="336.4" cy="176.3" r="0.45"/><circle cx="328.1" cy="182.6" r="0.45"/><circle cx="335.6" cy="178.6" r="0.45"/><circle cx="335.0" cy="187.7" r="0.45"/><circle cx="338.9" cy="185.2" r="0.45"/><circle cx="332.6" cy="172.8" r="0.45"/><circle cx="328.7" cy="174.3" r="0.45"/><circle cx="319.7" cy="188.2" r="0.45"/><circle cx="334.8" cy="176.8" r="0.45"/><circle cx="338.7" cy="173.4" r="0.45"/><circle cx="335.4" cy="181.9" r="0.45"/><circle cx="325.8" cy="189.1" r="0.45"/><circle cx="334.9" cy="180.7" r="0.45"/><circle cx="328.6" cy="171.5" r="0.45"/><circle cx="343.2" cy="172.2" r="0.45"/><circle cx="331.9" cy="179.7" r="0.45"/><circle cx="341.8" cy="158.0" r="0.45"/><circle cx="342.0" cy="178.2" r="0.45"/><circle cx="338.9" cy="168.5" r="0.45"/><circle cx="335.8" cy="188.2" r="0.45"/><circle cx="333.6" cy="171.4" r="0.45"/><circle cx="331.8" cy="172.2" r="0.45"/><circle cx="338.4" cy="177.6" r="0.45"/><circle cx="331.5" cy="182.1" r="0.45"/><circle cx="328.3" cy="165.4" r="0.45"/><circle cx="347.3" cy="171.4" r="0.45"/><circle cx="342.8" cy="175.5" r="0.45"/><circle cx="332.9" cy="180.1" r="0.45"/><circle cx="329.5" cy="169.8" r="0.45"/><circle cx="333.0" cy="173.2" r="0.45"/></g><g fill="#333"><circle cx="332.3" cy="199.3" r="0.45"/><circle cx="339.1" cy="213.0" r="0.45"/><circle cx="344.9" cy="209.4" r="0.45"/><circle cx="333.0" cy="205.2" r="0.45"/><circle cx="355.3" cy="205.5" r="0.45"/><circle cx="358.3" cy="212.6" r="0.45"/><circle cx="341.1" cy="195.0" r="0.45"/><circle cx="352.7" cy="197.5" r="0.45"/><circle cx="330.3" cy="209.6" r="0.45"/><circle cx="355.3" cy="211.7" r="0.45"/><circle cx="358.6" cy="199.0" r="0.45"/><circle cx="332.4" cy="197.4" r="0.45"/><circle cx="359.3" cy="197.2" r="0.45"/><circle cx="334.8" cy="195.4" r="0.45"/></g><g fill="#999"><circle cx="357.1" cy="180.8" r="0.5"/><circle cx="364.5" cy="171.9" r="0.5"/><circle cx="359.6" cy="187.3" r="0.5"/><circle cx="367.3" cy="169.7" r="0.5"/><circle cx="359.6" cy="180.4" r="0.5"/></g><g clip-path="url(#cB1)"><path d="M-7 28 C -8 22, -10.5 14, -10.8 4 C -11 -5, -5 -9.5, -1 -9.5 C 5 -9.5, 10 -5, 10 2 C 10 9, 7.5 14, 7 20 C 6.8 24, 7 26, 7 28 C 7 33, 3 36, 0 36 C -4 36, -7 33, -7 28 Z" transform="translate(378.5 202.5) scale(1.0)" fill="#fbfbfb" stroke="#222" stroke-width="0.6" vector-effect="non-scaling-stroke"/><path d="M-7 28 C -8 22, -10.5 14, -10.8 4 C -11 -5, -5 -9.5, -1 -9.5 C 5 -9.5, 10 -5, 10 2 C 10 9, 7.5 14, 7 20 C 6.8 24, 7 26, 7 28 C 7 33, 3 36, 0 36 C -4 36, -7 33, -7 28 Z" transform="translate(378.5 202.5) scale(0.88)" fill="#f1f1f1" stroke="#222" stroke-width="0.6" vector-effect="non-scaling-stroke"/><path d="M-7 28 C -8 22, -10.5 14, -10.8 4 C -11 -5, -5 -9.5, -1 -9.5 C 5 -9.5, 10 -5, 10 2 C 10 9, 7.5 14, 7 20 C 6.8 24, 7 26, 7 28 C 7 33, 3 36, 0 36 C -4 36, -7 33, -7 28 Z" transform="translate(378.5 202.5) scale(0.76)" fill="#e4e4e4" stroke="#222" stroke-width="0.6" vector-effect="non-scaling-stroke"/><path d="M-7 28 C -8 22, -10.5 14, -10.8 4 C -11 -5, -5 -9.5, -1 -9.5 C 5 -9.5, 10 -5, 10 2 C 10 9, 7.5 14, 7 20 C 6.8 24, 7 26, 7 28 C 7 33, 3 36, 0 36 C -4 36, -7 33, -7 28 Z" transform="translate(378.5 202.5) scale(0.64)" fill="#d6d6d6" stroke="#222" stroke-width="0.6" vector-effect="non-scaling-stroke"/></g><g transform="translate(379.4 204.6)"><path d="M-6.8 0 A6.8 7.8 0 1 0 6.8 0 A6.8 7.8 0 1 0 -6.8 0 Z" fill="#333" stroke="#111" stroke-width="0.6"/></g><g transform="translate(380.6 206.0)"><path d="M-4.6 0 A4.6 5.6 0 1 0 4.6 0 A4.6 5.6 0 1 0 -4.6 0 Z" fill="#8a8a8a"/><path d="M-3.0 0 A3.0 3.8 0 1 0 3.0 0 A3.0 3.8 0 1 0 -3.0 0 Z" fill="#b5b5b5"/></g><ellipse cx="379.8" cy="203.6" rx="1.3" ry="1.2" fill="#111"/><g fill="#111"><circle cx="371.5" cy="208.1" r="0.45"/><circle cx="383.9" cy="195.7" r="0.45"/><circle cx="381.5" cy="204.9" r="0.45"/><circle cx="383.0" cy="207.3" r="0.45"/><circle cx="377.2" cy="213.3" r="0.45"/><circle cx="375.1" cy="209.7" r="0.45"/><circle cx="377.0" cy="220.9" r="0.45"/><circle cx="379.4" cy="196.8" r="0.45"/><circle cx="379.5" cy="211.5" r="0.45"/><circle cx="377.8" cy="220.1" r="0.45"/><circle cx="382.8" cy="197.8" r="0.45"/><circle cx="384.1" cy="205.7" r="0.45"/><circle cx="375.3" cy="205.0" r="0.45"/><circle cx="376.7" cy="215.0" r="0.45"/><circle cx="371.3" cy="207.6" r="0.45"/><circle cx="373.5" cy="206.5" r="0.45"/><circle cx="374.6" cy="212.8" r="0.45"/><circle cx="380.6" cy="200.3" r="0.45"/><circle cx="377.9" cy="195.4" r="0.45"/><circle cx="377.5" cy="213.9" r="0.45"/><circle cx="375.8" cy="227.1" r="0.45"/><circle cx="379.3" cy="202.1" r="0.45"/></g><g fill="#111"><circle cx="381.0" cy="193.3" r="0.5"/><circle cx="384.9" cy="194.1" r="0.5"/><circle cx="375.7" cy="194.8" r="0.5"/><circle cx="381.3" cy="193.2" r="0.5"/></g><g clip-path="url(#cB2)"><path d="M0 -10 C 10 -10, 23 -7, 23.5 0 C 23 7, 10 10, 0 10 Z" transform="translate(435.6 170.2) scale(1.0)" fill="#f4f4f4" stroke="#222" stroke-width="0.55" vector-effect="non-scaling-stroke"/><path d="M0 -10 C 10 -10, 23 -7, 23.5 0 C 23 7, 10 10, 0 10 Z" transform="translate(435.6 170.2) scale(0.85)" fill="#e4e4e4" stroke="#222" stroke-width="0.55" vector-effect="non-scaling-stroke"/><path d="M0 -10 C 10 -10, 23 -7, 23.5 0 C 23 7, 10 10, 0 10 Z" transform="translate(435.6 170.2) scale(0.7)" fill="#d4d4d4" stroke="#222" stroke-width="0.55" vector-effect="non-scaling-stroke"/><path d="M0 -10 C 10 -10, 23 -7, 23.5 0 C 23 7, 10 10, 0 10 Z" transform="translate(435.6 170.2) scale(0.55)" fill="#bbb" stroke="#222" stroke-width="0.55" vector-effect="non-scaling-stroke"/><path d="M0 -10 C 10 -10, 23 -7, 23.5 0 C 23 7, 10 10, 0 10 Z" transform="translate(435.6 170.2) scale(0.4)" fill="#999" stroke="#222" stroke-width="0.55" vector-effect="non-scaling-stroke"/></g><rect x="435.6" y="160.4" width="3.4" height="19.6" fill="#111"/><g fill="#111"><circle cx="452.9" cy="172.5" r="0.5"/><circle cx="459.5" cy="179.6" r="0.5"/><circle cx="449.6" cy="166.4" r="0.5"/><circle cx="451.3" cy="168.4" r="0.5"/><circle cx="454.4" cy="163.5" r="0.5"/><circle cx="456.1" cy="162.8" r="0.5"/><circle cx="457.3" cy="165.4" r="0.5"/><circle cx="456.3" cy="172.4" r="0.5"/><circle cx="454.6" cy="167.0" r="0.5"/><circle cx="451.9" cy="164.2" r="0.5"/><circle cx="461.5" cy="173.2" r="0.5"/><circle cx="462.9" cy="172.1" r="0.5"/><circle cx="456.5" cy="167.1" r="0.5"/><circle cx="454.0" cy="162.0" r="0.5"/><circle cx="459.2" cy="175.3" r="0.5"/><circle cx="461.3" cy="177.8" r="0.5"/><circle cx="450.8" cy="157.0" r="0.5"/><circle cx="458.3" cy="171.4" r="0.5"/><circle cx="451.0" cy="165.3" r="0.5"/><circle cx="458.5" cy="179.5" r="0.5"/><circle cx="456.9" cy="166.5" r="0.5"/><circle cx="458.6" cy="175.9" r="0.5"/><circle cx="450.1" cy="174.1" r="0.5"/><circle cx="451.0" cy="170.2" r="0.5"/><circle cx="457.1" cy="170.4" r="0.5"/><circle cx="448.8" cy="172.1" r="0.5"/><circle cx="449.1" cy="173.7" r="0.5"/><circle cx="447.0" cy="167.5" r="0.5"/><circle cx="453.0" cy="166.4" r="0.5"/><circle cx="455.9" cy="171.4" r="0.5"/></g><g fill="#111"><circle cx="455.5" cy="167.7" r="0.55"/><circle cx="447.6" cy="162.1" r="0.55"/><circle cx="451.3" cy="162.5" r="0.55"/><circle cx="436.3" cy="160.4" r="0.55"/><circle cx="444.7" cy="163.1" r="0.55"/><circle cx="454.6" cy="175.7" r="0.55"/><circle cx="455.7" cy="166.8" r="0.55"/><circle cx="456.7" cy="164.8" r="0.55"/><circle cx="441.2" cy="160.2" r="0.55"/><circle cx="443.1" cy="161.6" r="0.55"/><circle cx="441.4" cy="159.4" r="0.55"/><circle cx="444.1" cy="160.2" r="0.55"/><circle cx="457.6" cy="174.0" r="0.55"/><circle cx="457.5" cy="166.8" r="0.55"/><circle cx="459.8" cy="169.5" r="0.55"/><circle cx="452.3" cy="163.6" r="0.55"/><circle cx="453.5" cy="162.6" r="0.55"/><circle cx="448.7" cy="178.6" r="0.55"/><circle cx="460.8" cy="168.1" r="0.55"/><circle cx="453.3" cy="177.0" r="0.55"/><circle cx="455.3" cy="174.5" r="0.55"/><circle cx="459.3" cy="174.5" r="0.55"/><circle cx="457.2" cy="172.8" r="0.55"/><circle cx="458.6" cy="168.9" r="0.55"/><circle cx="449.4" cy="177.8" r="0.55"/><circle cx="447.6" cy="178.0" r="0.55"/><circle cx="447.3" cy="179.1" r="0.55"/><circle cx="450.9" cy="162.6" r="0.55"/><circle cx="436.7" cy="160.4" r="0.55"/><circle cx="456.9" cy="171.4" r="0.55"/><circle cx="436.0" cy="179.8" r="0.55"/><circle cx="443.9" cy="160.7" r="0.55"/><circle cx="457.1" cy="165.3" r="0.55"/><circle cx="439.6" cy="161.2" r="0.55"/><circle cx="460.4" cy="168.0" r="0.55"/><circle cx="444.6" cy="160.9" r="0.55"/><circle cx="447.3" cy="162.5" r="0.55"/><circle cx="455.5" cy="173.5" r="0.55"/><circle cx="453.8" cy="164.5" r="0.55"/><circle cx="436.1" cy="160.8" r="0.55"/><circle cx="452.8" cy="164.0" r="0.55"/><circle cx="447.9" cy="162.8" r="0.55"/><circle cx="447.1" cy="179.0" r="0.55"/><circle cx="438.4" cy="179.5" r="0.55"/><circle cx="454.0" cy="163.1" r="0.55"/><circle cx="445.6" cy="179.4" r="0.55"/><circle cx="456.5" cy="173.0" r="0.55"/><circle cx="453.5" cy="164.2" r="0.55"/><circle cx="453.4" cy="164.8" r="0.55"/><circle cx="440.0" cy="180.3" r="0.55"/><circle cx="440.9" cy="160.7" r="0.55"/><circle cx="459.3" cy="175.5" r="0.55"/><circle cx="440.6" cy="161.4" r="0.55"/><circle cx="442.2" cy="179.9" r="0.55"/><circle cx="442.3" cy="159.9" r="0.55"/><circle cx="452.6" cy="164.3" r="0.55"/><circle cx="459.4" cy="171.2" r="0.55"/><circle cx="453.8" cy="175.8" r="0.55"/><circle cx="459.7" cy="172.1" r="0.55"/><circle cx="458.7" cy="167.5" r="0.55"/><circle cx="446.0" cy="160.9" r="0.55"/><circle cx="451.0" cy="163.0" r="0.55"/><circle cx="456.9" cy="173.0" r="0.55"/><circle cx="455.5" cy="165.1" r="0.55"/><circle cx="459.6" cy="170.1" r="0.55"/><circle cx="441.9" cy="179.5" r="0.55"/><circle cx="439.9" cy="179.4" r="0.55"/><circle cx="455.3" cy="167.0" r="0.55"/><circle cx="438.3" cy="179.9" r="0.55"/><circle cx="456.7" cy="168.8" r="0.55"/></g><g fill="#111"><circle cx="452.8" cy="178.2" r="0.45"/><circle cx="445.5" cy="179.3" r="0.45"/><circle cx="454.7" cy="182.1" r="0.45"/><circle cx="457.8" cy="178.5" r="0.45"/><circle cx="448.4" cy="178.2" r="0.45"/><circle cx="444.4" cy="181.0" r="0.45"/><circle cx="440.5" cy="179.2" r="0.45"/><circle cx="453.0" cy="181.3" r="0.45"/><circle cx="444.4" cy="181.5" r="0.45"/><circle cx="456.2" cy="178.0" r="0.45"/><circle cx="456.1" cy="182.2" r="0.45"/><circle cx="446.8" cy="178.9" r="0.45"/><circle cx="459.1" cy="180.0" r="0.45"/><circle cx="441.9" cy="178.6" r="0.45"/></g><g fill="#111"><circle cx="455.6" cy="175.3" r="0.45"/><circle cx="457.2" cy="170.2" r="0.45"/><circle cx="465.1" cy="177.4" r="0.45"/><circle cx="461.8" cy="171.0" r="0.45"/><circle cx="455.3" cy="169.5" r="0.45"/><circle cx="460.6" cy="178.8" r="0.45"/><circle cx="463.2" cy="176.6" r="0.45"/><circle cx="461.5" cy="163.9" r="0.45"/><circle cx="467.8" cy="178.0" r="0.45"/><circle cx="460.6" cy="162.1" r="0.45"/></g><circle cx="457.4" cy="193.3" r="0.55" fill="#444"/><circle cx="480.8" cy="171" r="0.55" fill="#666"/><circle cx="492.2" cy="171.7" r="0.55" fill="#666"/><path d="M325.6 285.5 C 335 284.5, 345 283.5, 353 283.3 C 358 283.5, 361.5 287, 361.5 293 C 361.5 300, 359 307, 355 311 C 352 313.5, 348 313, 343 310 C 337 306.5, 331 303, 325.6 303 Z" fill="#0d0d0d"/><path d="M328.8 289.2 C 335 288.6, 345 288.6, 352.5 289.8 C 354.5 292.5, 354.5 297.5, 352 301.5 C 346 300.5, 338 296.5, 333 295 C 330 294, 328.8 292.5, 328.8 289.2 Z" fill="#b8b8b8"/><g fill="#fff"><circle cx="340.3" cy="295.1" r="0.6"/><circle cx="346.3" cy="296.0" r="0.6"/><circle cx="341.0" cy="295.3" r="0.6"/><circle cx="345.9" cy="291.5" r="0.6"/><circle cx="350.3" cy="291.8" r="0.6"/><circle cx="331.3" cy="291.6" r="0.6"/><circle cx="334.7" cy="291.4" r="0.6"/><circle cx="346.6" cy="292.5" r="0.6"/><circle cx="352.7" cy="292.1" r="0.6"/><circle cx="344.9" cy="292.8" r="0.6"/><circle cx="328.2" cy="293.1" r="0.6"/><circle cx="343.9" cy="295.2" r="0.6"/><circle cx="332.3" cy="295.4" r="0.6"/><circle cx="349.9" cy="290.8" r="0.6"/><circle cx="343.8" cy="296.0" r="0.6"/><circle cx="328.5" cy="294.1" r="0.6"/><circle cx="326.1" cy="293.4" r="0.6"/><circle cx="352.1" cy="292.1" r="0.6"/><circle cx="345.5" cy="288.9" r="0.6"/><circle cx="336.6" cy="291.8" r="0.6"/><circle cx="347.2" cy="292.3" r="0.6"/><circle cx="346.9" cy="292.7" r="0.6"/><circle cx="336.3" cy="293.3" r="0.6"/><circle cx="343.1" cy="292.2" r="0.6"/><circle cx="346.8" cy="290.9" r="0.6"/><circle cx="342.7" cy="294.4" r="0.6"/><circle cx="336.9" cy="292.8" r="0.6"/><circle cx="340.8" cy="289.3" r="0.6"/><circle cx="352.2" cy="292.0" r="0.6"/><circle cx="345.0" cy="285.2" r="0.6"/><circle cx="348.5" cy="291.2" r="0.6"/><circle cx="332.3" cy="291.8" r="0.6"/><circle cx="345.8" cy="287.9" r="0.6"/><circle cx="346.0" cy="288.8" r="0.6"/><circle cx="346.7" cy="292.9" r="0.6"/><circle cx="347.4" cy="294.0" r="0.6"/><circle cx="332.7" cy="291.1" r="0.6"/><circle cx="342.9" cy="291.3" r="0.6"/><circle cx="338.9" cy="289.6" r="0.6"/><circle cx="344.1" cy="298.4" r="0.6"/><circle cx="346.9" cy="293.3" r="0.6"/><circle cx="331.5" cy="291.8" r="0.6"/><circle cx="348.2" cy="292.2" r="0.6"/><circle cx="344.1" cy="291.3" r="0.6"/><circle cx="336.4" cy="292.6" r="0.6"/></g><g fill="#111"><circle cx="344.2" cy="293.9" r="0.55"/><circle cx="340.9" cy="290.8" r="0.55"/><circle cx="348.2" cy="293.0" r="0.55"/><circle cx="345.3" cy="293.2" r="0.55"/><circle cx="348.7" cy="293.9" r="0.55"/><circle cx="344.4" cy="296.4" r="0.55"/><circle cx="340.8" cy="293.5" r="0.55"/><circle cx="341.3" cy="294.3" r="0.55"/><circle cx="345.6" cy="294.7" r="0.55"/><circle cx="342.6" cy="296.2" r="0.55"/><circle cx="343.2" cy="291.1" r="0.55"/><circle cx="350.7" cy="289.3" r="0.55"/><circle cx="354.5" cy="289.8" r="0.55"/><circle cx="333.4" cy="292.1" r="0.55"/><circle cx="348.0" cy="291.6" r="0.55"/><circle cx="346.9" cy="296.6" r="0.55"/><circle cx="338.0" cy="293.7" r="0.55"/><circle cx="345.5" cy="295.0" r="0.55"/><circle cx="338.1" cy="289.2" r="0.55"/><circle cx="338.2" cy="291.5" r="0.55"/><circle cx="342.6" cy="294.0" r="0.55"/><circle cx="337.5" cy="291.2" r="0.55"/><circle cx="338.2" cy="294.5" r="0.55"/><circle cx="344.9" cy="295.2" r="0.55"/><circle cx="348.1" cy="296.7" r="0.55"/><circle cx="339.1" cy="297.3" r="0.55"/><circle cx="334.6" cy="295.5" r="0.55"/><circle cx="341.6" cy="289.1" r="0.55"/><circle cx="351.7" cy="299.7" r="0.55"/><circle cx="349.3" cy="289.9" r="0.55"/><circle cx="326.7" cy="296.0" r="0.55"/><circle cx="343.8" cy="292.1" r="0.55"/><circle cx="337.1" cy="289.0" r="0.55"/><circle cx="342.3" cy="288.0" r="0.55"/><circle cx="332.5" cy="293.2" r="0.55"/><circle cx="350.5" cy="295.9" r="0.55"/><circle cx="348.3" cy="297.6" r="0.55"/><circle cx="347.1" cy="292.4" r="0.55"/><circle cx="343.7" cy="294.4" r="0.55"/><circle cx="338.2" cy="293.8" r="0.55"/></g><g fill="none" stroke="#f6f6f6" stroke-width="0.95"><path d="M328.5 294.2 C 334 294, 340 297.5, 346 301.1 C 350 303.1, 353.5 302.8, 355.5 299.6"/><path d="M327 296.9 C 333 296.5, 340 300.3, 346 303.9 C 351 306.6, 355 306, 357.2 302.2"/><path d="M327 299.6 C 333 299.2, 340 303, 346 306.6 C 351 309.4, 355 308.8, 358.3 304.8"/><path d="M326.6 302 C 332.5 301.8, 338.5 305.2, 344.5 308.8 C 349 311.6, 353 311.6, 355.8 308.8 C 357.5 306.8, 358.8 304.4, 359.6 301.8"/></g><g fill="#111"><circle cx="489.1" cy="341.4" r="0.5"/><circle cx="497.1" cy="334.5" r="0.5"/><circle cx="492.2" cy="352.1" r="0.5"/><circle cx="490.8" cy="341.7" r="0.5"/><circle cx="491.8" cy="345.0" r="0.5"/><circle cx="499.0" cy="350.8" r="0.5"/><circle cx="501.5" cy="333.4" r="0.5"/><circle cx="492.5" cy="335.6" r="0.5"/><circle cx="492.9" cy="342.8" r="0.5"/><circle cx="494.9" cy="334.4" r="0.5"/><circle cx="491.9" cy="362.7" r="0.5"/><circle cx="488.0" cy="359.7" r="0.5"/><circle cx="489.3" cy="331.9" r="0.5"/><circle cx="493.3" cy="337.4" r="0.5"/><circle cx="494.6" cy="335.0" r="0.5"/><circle cx="493.3" cy="343.3" r="0.5"/><circle cx="500.0" cy="343.7" r="0.5"/><circle cx="500.4" cy="341.7" r="0.5"/><circle cx="506.1" cy="317.7" r="0.5"/><circle cx="493.4" cy="342.8" r="0.5"/><circle cx="494.5" cy="343.4" r="0.5"/><circle cx="496.9" cy="351.9" r="0.5"/><circle cx="494.6" cy="339.6" r="0.5"/><circle cx="490.3" cy="341.7" r="0.5"/><circle cx="493.3" cy="343.6" r="0.5"/><circle cx="493.7" cy="343.3" r="0.5"/><circle cx="492.7" cy="330.3" r="0.5"/><circle cx="492.0" cy="335.1" r="0.5"/><circle cx="500.1" cy="338.9" r="0.5"/><circle cx="496.9" cy="348.4" r="0.5"/><circle cx="498.0" cy="338.6" r="0.5"/><circle cx="496.5" cy="322.2" r="0.5"/><circle cx="498.8" cy="333.8" r="0.5"/><circle cx="485.9" cy="346.0" r="0.5"/><circle cx="493.3" cy="326.9" r="0.5"/><circle cx="498.5" cy="350.9" r="0.5"/><circle cx="495.2" cy="335.1" r="0.5"/><circle cx="498.0" cy="355.8" r="0.5"/><circle cx="490.8" cy="337.6" r="0.5"/><circle cx="491.7" cy="341.5" r="0.5"/><circle cx="495.5" cy="344.8" r="0.5"/><circle cx="493.2" cy="343.6" r="0.5"/><circle cx="505.5" cy="328.9" r="0.5"/><circle cx="493.7" cy="339.1" r="0.5"/><circle cx="493.1" cy="338.3" r="0.5"/><circle cx="493.7" cy="344.0" r="0.5"/><circle cx="493.5" cy="341.1" r="0.5"/><circle cx="494.8" cy="346.7" r="0.5"/><circle cx="484.2" cy="344.9" r="0.5"/><circle cx="487.8" cy="334.4" r="0.5"/><circle cx="494.6" cy="331.3" r="0.5"/><circle cx="497.1" cy="342.1" r="0.5"/><circle cx="499.5" cy="348.2" r="0.5"/><circle cx="489.3" cy="356.6" r="0.5"/><circle cx="496.3" cy="345.0" r="0.5"/><circle cx="491.2" cy="332.5" r="0.5"/><circle cx="499.8" cy="343.4" r="0.5"/><circle cx="486.8" cy="346.1" r="0.5"/><circle cx="497.3" cy="325.0" r="0.5"/><circle cx="484.0" cy="336.8" r="0.5"/><circle cx="491.4" cy="342.2" r="0.5"/><circle cx="501.5" cy="352.6" r="0.5"/><circle cx="491.4" cy="332.0" r="0.5"/><circle cx="502.5" cy="339.5" r="0.5"/><circle cx="492.7" cy="352.5" r="0.5"/><circle cx="498.3" cy="338.7" r="0.5"/><circle cx="500.4" cy="338.1" r="0.5"/><circle cx="500.0" cy="347.2" r="0.5"/><circle cx="496.6" cy="331.9" r="0.5"/><circle cx="494.5" cy="354.6" r="0.5"/><circle cx="501.5" cy="348.1" r="0.5"/><circle cx="491.1" cy="349.4" r="0.5"/><circle cx="491.4" cy="340.7" r="0.5"/><circle cx="498.1" cy="355.2" r="0.5"/><circle cx="491.6" cy="342.7" r="0.5"/><circle cx="488.3" cy="333.5" r="0.5"/><circle cx="500.2" cy="345.7" r="0.5"/><circle cx="500.4" cy="352.2" r="0.5"/><circle cx="504.6" cy="345.3" r="0.5"/><circle cx="489.9" cy="337.5" r="0.5"/></g><g fill="#111"><circle cx="505.3" cy="328.1" r="0.45"/><circle cx="506.3" cy="330.3" r="0.45"/><circle cx="494.7" cy="353.4" r="0.45"/><circle cx="492.2" cy="339.8" r="0.45"/><circle cx="487.7" cy="355.6" r="0.45"/><circle cx="506.7" cy="328.0" r="0.45"/><circle cx="486.8" cy="338.5" r="0.45"/><circle cx="495.9" cy="349.1" r="0.45"/><circle cx="491.9" cy="342.7" r="0.45"/><circle cx="487.7" cy="329.4" r="0.45"/><circle cx="485.8" cy="341.1" r="0.45"/><circle cx="496.9" cy="343.6" r="0.45"/><circle cx="505.5" cy="332.7" r="0.45"/><circle cx="491.9" cy="338.2" r="0.45"/><circle cx="505.8" cy="332.8" r="0.45"/><circle cx="490.7" cy="336.9" r="0.45"/><circle cx="499.9" cy="331.8" r="0.45"/><circle cx="488.0" cy="347.6" r="0.45"/><circle cx="497.2" cy="342.3" r="0.45"/><circle cx="484.3" cy="330.7" r="0.45"/><circle cx="486.3" cy="334.8" r="0.45"/><circle cx="504.8" cy="356.6" r="0.45"/><circle cx="503.5" cy="334.9" r="0.45"/><circle cx="497.0" cy="353.4" r="0.45"/><circle cx="491.9" cy="336.0" r="0.45"/><circle cx="500.4" cy="334.0" r="0.45"/><circle cx="494.9" cy="334.7" r="0.45"/><circle cx="502.9" cy="340.1" r="0.45"/><circle cx="486.2" cy="322.6" r="0.45"/><circle cx="498.8" cy="326.1" r="0.45"/><circle cx="499.4" cy="329.8" r="0.45"/><circle cx="496.2" cy="334.0" r="0.45"/><circle cx="499.1" cy="326.6" r="0.45"/><circle cx="493.4" cy="345.0" r="0.45"/><circle cx="490.0" cy="356.7" r="0.45"/><circle cx="506.8" cy="355.9" r="0.45"/><circle cx="505.4" cy="354.9" r="0.45"/><circle cx="497.1" cy="351.3" r="0.45"/><circle cx="493.3" cy="324.3" r="0.45"/><circle cx="505.3" cy="354.2" r="0.45"/></g><g transform="translate(497 318) rotate(12)"><path d="M0 -20 C 6.5 -20, 9.8 -9, 9.6 0 C 9.4 8, 4 18, 0 21 C -4 18, -9.4 8, -9.6 0 C -9.8 -9, -6.5 -20, 0 -20 Z" transform="scale(1.0)" fill="#f6f6f6" stroke="#222" stroke-width="0.55" vector-effect="non-scaling-stroke"/><path d="M0 -20 C 6.5 -20, 9.8 -9, 9.6 0 C 9.4 8, 4 18, 0 21 C -4 18, -9.4 8, -9.6 0 C -9.8 -9, -6.5 -20, 0 -20 Z" transform="scale(0.86)" fill="#e4e4e4" stroke="#222" stroke-width="0.55" vector-effect="non-scaling-stroke"/><path d="M0 -20 C 6.5 -20, 9.8 -9, 9.6 0 C 9.4 8, 4 18, 0 21 C -4 18, -9.4 8, -9.6 0 C -9.8 -9, -6.5 -20, 0 -20 Z" transform="scale(0.73)" fill="#cccccc" stroke="#222" stroke-width="0.55" vector-effect="non-scaling-stroke"/><path d="M0 -20 C 6.5 -20, 9.8 -9, 9.6 0 C 9.4 8, 4 18, 0 21 C -4 18, -9.4 8, -9.6 0 C -9.8 -9, -6.5 -20, 0 -20 Z" transform="scale(0.6)" fill="#999" stroke="#222" stroke-width="0.55" vector-effect="non-scaling-stroke"/><path d="M0 -20 C 6.5 -20, 9.8 -9, 9.6 0 C 9.4 8, 4 18, 0 21 C -4 18, -9.4 8, -9.6 0 C -9.8 -9, -6.5 -20, 0 -20 Z" transform="scale(0.48)" fill="#555" stroke="#222" stroke-width="0.55" vector-effect="non-scaling-stroke"/><path d="M-4.3 0 A4.3 6.6 0 1 0 4.3 0 A4.3 6.6 0 1 0 -4.3 0 Z" transform="translate(-0.6 -1.6)" fill="#111"/><ellipse cx="-0.6" cy="-1.6" rx="1.3" ry="1.7" fill="#bbb"/></g><g fill="#111"><circle cx="490.9" cy="318.4" r="0.45"/><circle cx="502.7" cy="310.1" r="0.45"/><circle cx="503.1" cy="326.6" r="0.45"/><circle cx="499.1" cy="319.8" r="0.45"/><circle cx="502.5" cy="323.9" r="0.45"/><circle cx="502.2" cy="304.1" r="0.45"/><circle cx="495.1" cy="337.0" r="0.45"/><circle cx="500.7" cy="309.5" r="0.45"/><circle cx="492.4" cy="331.9" r="0.45"/><circle cx="509.5" cy="313.7" r="0.45"/><circle cx="504.4" cy="304.9" r="0.45"/><circle cx="495.0" cy="331.0" r="0.45"/><circle cx="487.4" cy="321.7" r="0.45"/><circle cx="491.9" cy="316.0" r="0.45"/><circle cx="497.5" cy="314.4" r="0.45"/><circle cx="492.0" cy="323.8" r="0.45"/><circle cx="499.1" cy="315.3" r="0.45"/><circle cx="485.2" cy="302.0" r="0.45"/><circle cx="487.9" cy="298.4" r="0.45"/><circle cx="490.0" cy="322.5" r="0.45"/><circle cx="491.0" cy="323.1" r="0.45"/><circle cx="494.2" cy="319.3" r="0.45"/><circle cx="505.9" cy="315.7" r="0.45"/><circle cx="494.5" cy="303.5" r="0.45"/><circle cx="496.3" cy="323.6" r="0.45"/><circle cx="507.4" cy="313.4" r="0.45"/><circle cx="485.9" cy="319.6" r="0.45"/><circle cx="497.8" cy="315.4" r="0.45"/><circle cx="490.8" cy="323.7" r="0.45"/><circle cx="490.4" cy="326.8" r="0.45"/></g><g fill="#333"><circle cx="450.8" cy="297.5" r="0.6"/><circle cx="460.5" cy="301" r="0.6"/><circle cx="462.5" cy="353.8" r="0.6"/><circle cx="498" cy="289.5" r="0.5"/><circle cx="503" cy="293" r="0.5"/><circle cx="507" cy="296" r="0.5"/></g>
</svg>
</body></html>
